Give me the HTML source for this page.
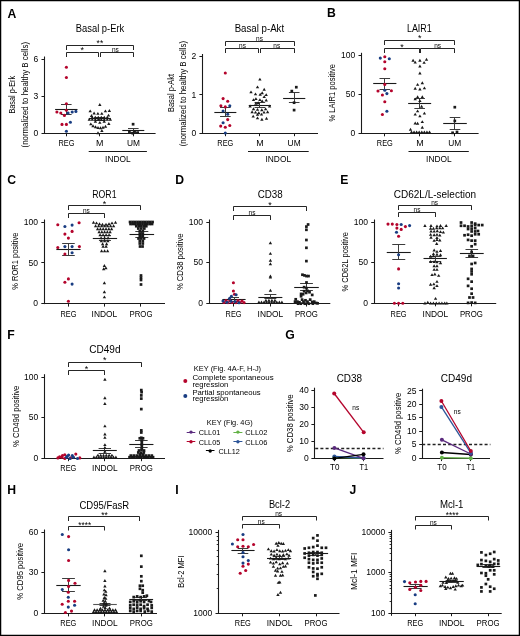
<!DOCTYPE html>
<html><head><meta charset="utf-8"><style>
html,body{margin:0;padding:0;background:#fff;}
svg{display:block;font-family:"Liberation Sans",sans-serif;}
</style></head><body>
<svg width="520" height="636" viewBox="0 0 520 636">
<rect x="0" y="0" width="520" height="636" fill="#fff"/>
<line x1="55.10" y1="109.50" x2="77.50" y2="109.50" stroke="#1a1a1a" stroke-width="1.1"/>
<line x1="61.00" y1="104.50" x2="71.60" y2="104.50" stroke="#3a3a3a" stroke-width="0.9900000000000001"/>
<line x1="61.00" y1="114.50" x2="71.60" y2="114.50" stroke="#3a3a3a" stroke-width="0.9900000000000001"/>
<line x1="66.50" y1="104.80" x2="66.50" y2="114.20" stroke="#3a3a3a" stroke-width="0.9900000000000001"/>
<line x1="88.80" y1="118.50" x2="110.80" y2="118.50" stroke="#1a1a1a" stroke-width="1.1"/>
<line x1="94.50" y1="117.50" x2="105.10" y2="117.50" stroke="#3a3a3a" stroke-width="0.9900000000000001"/>
<line x1="94.50" y1="120.50" x2="105.10" y2="120.50" stroke="#3a3a3a" stroke-width="0.9900000000000001"/>
<line x1="99.50" y1="117.70" x2="99.50" y2="120.20" stroke="#3a3a3a" stroke-width="0.9900000000000001"/>
<line x1="122.30" y1="130.50" x2="144.30" y2="130.50" stroke="#1a1a1a" stroke-width="1.1"/>
<line x1="128.00" y1="128.50" x2="138.60" y2="128.50" stroke="#3a3a3a" stroke-width="0.9900000000000001"/>
<line x1="128.00" y1="132.50" x2="138.60" y2="132.50" stroke="#3a3a3a" stroke-width="0.9900000000000001"/>
<line x1="133.50" y1="128.20" x2="133.50" y2="132.40" stroke="#3a3a3a" stroke-width="0.9900000000000001"/>
<line x1="214.35" y1="112.50" x2="236.35" y2="112.50" stroke="#1a1a1a" stroke-width="1.1"/>
<line x1="220.05" y1="107.50" x2="230.65" y2="107.50" stroke="#3a3a3a" stroke-width="0.9900000000000001"/>
<line x1="220.05" y1="116.50" x2="230.65" y2="116.50" stroke="#3a3a3a" stroke-width="0.9900000000000001"/>
<line x1="225.50" y1="107.50" x2="225.50" y2="116.30" stroke="#3a3a3a" stroke-width="0.9900000000000001"/>
<line x1="248.75" y1="105.50" x2="270.95" y2="105.50" stroke="#1a1a1a" stroke-width="1.1"/>
<line x1="254.55" y1="102.50" x2="265.15" y2="102.50" stroke="#3a3a3a" stroke-width="0.9900000000000001"/>
<line x1="254.55" y1="107.50" x2="265.15" y2="107.50" stroke="#3a3a3a" stroke-width="0.9900000000000001"/>
<line x1="259.50" y1="103.00" x2="259.50" y2="107.40" stroke="#3a3a3a" stroke-width="0.9900000000000001"/>
<line x1="283.10" y1="98.50" x2="305.30" y2="98.50" stroke="#1a1a1a" stroke-width="1.1"/>
<line x1="288.90" y1="92.50" x2="299.50" y2="92.50" stroke="#3a3a3a" stroke-width="0.9900000000000001"/>
<line x1="288.90" y1="102.50" x2="299.50" y2="102.50" stroke="#3a3a3a" stroke-width="0.9900000000000001"/>
<line x1="294.50" y1="92.20" x2="294.50" y2="103.00" stroke="#3a3a3a" stroke-width="0.9900000000000001"/>
<line x1="373.20" y1="83.50" x2="396.40" y2="83.50" stroke="#1a1a1a" stroke-width="1.1"/>
<line x1="379.50" y1="78.50" x2="390.10" y2="78.50" stroke="#3a3a3a" stroke-width="0.9900000000000001"/>
<line x1="379.50" y1="89.50" x2="390.10" y2="89.50" stroke="#3a3a3a" stroke-width="0.9900000000000001"/>
<line x1="384.50" y1="78.70" x2="384.50" y2="89.30" stroke="#3a3a3a" stroke-width="0.9900000000000001"/>
<line x1="408.15" y1="103.50" x2="431.15" y2="103.50" stroke="#1a1a1a" stroke-width="1.1"/>
<line x1="414.35" y1="98.50" x2="424.95" y2="98.50" stroke="#3a3a3a" stroke-width="0.9900000000000001"/>
<line x1="414.35" y1="108.50" x2="424.95" y2="108.50" stroke="#3a3a3a" stroke-width="0.9900000000000001"/>
<line x1="419.50" y1="98.80" x2="419.50" y2="108.00" stroke="#3a3a3a" stroke-width="0.9900000000000001"/>
<line x1="443.20" y1="123.50" x2="466.80" y2="123.50" stroke="#1a1a1a" stroke-width="1.1"/>
<line x1="449.70" y1="117.50" x2="460.30" y2="117.50" stroke="#3a3a3a" stroke-width="0.9900000000000001"/>
<line x1="449.70" y1="129.50" x2="460.30" y2="129.50" stroke="#3a3a3a" stroke-width="0.9900000000000001"/>
<line x1="454.50" y1="117.30" x2="454.50" y2="129.30" stroke="#3a3a3a" stroke-width="0.9900000000000001"/>
<line x1="56.35" y1="249.50" x2="80.55" y2="249.50" stroke="#1a1a1a" stroke-width="1.1"/>
<line x1="62.15" y1="243.50" x2="74.75" y2="243.50" stroke="#3a3a3a" stroke-width="0.9900000000000001"/>
<line x1="62.15" y1="255.50" x2="74.75" y2="255.50" stroke="#3a3a3a" stroke-width="0.9900000000000001"/>
<line x1="68.50" y1="243.70" x2="68.50" y2="255.30" stroke="#3a3a3a" stroke-width="0.9900000000000001"/>
<line x1="92.80" y1="238.50" x2="117.10" y2="238.50" stroke="#1a1a1a" stroke-width="1.1"/>
<line x1="98.95" y1="235.50" x2="110.95" y2="235.50" stroke="#3a3a3a" stroke-width="0.9900000000000001"/>
<line x1="98.95" y1="240.50" x2="110.95" y2="240.50" stroke="#3a3a3a" stroke-width="0.9900000000000001"/>
<line x1="104.50" y1="235.20" x2="104.50" y2="240.40" stroke="#3a3a3a" stroke-width="0.9900000000000001"/>
<line x1="129.50" y1="234.50" x2="154.10" y2="234.50" stroke="#1a1a1a" stroke-width="1.1"/>
<line x1="135.30" y1="231.50" x2="148.30" y2="231.50" stroke="#3a3a3a" stroke-width="0.9900000000000001"/>
<line x1="135.30" y1="237.50" x2="148.30" y2="237.50" stroke="#3a3a3a" stroke-width="0.9900000000000001"/>
<line x1="141.50" y1="231.40" x2="141.50" y2="237.40" stroke="#3a3a3a" stroke-width="0.9900000000000001"/>
<line x1="222.40" y1="299.50" x2="245.60" y2="299.50" stroke="#1a1a1a" stroke-width="1.1"/>
<line x1="229.00" y1="297.50" x2="239.00" y2="297.50" stroke="#3a3a3a" stroke-width="0.9900000000000001"/>
<line x1="229.00" y1="301.50" x2="239.00" y2="301.50" stroke="#3a3a3a" stroke-width="0.9900000000000001"/>
<line x1="234.50" y1="297.60" x2="234.50" y2="301.40" stroke="#3a3a3a" stroke-width="0.9900000000000001"/>
<line x1="258.35" y1="297.50" x2="282.35" y2="297.50" stroke="#1a1a1a" stroke-width="1.1"/>
<line x1="264.35" y1="294.50" x2="276.35" y2="294.50" stroke="#3a3a3a" stroke-width="0.9900000000000001"/>
<line x1="264.35" y1="298.50" x2="276.35" y2="298.50" stroke="#3a3a3a" stroke-width="0.9900000000000001"/>
<line x1="270.50" y1="295.00" x2="270.50" y2="299.00" stroke="#3a3a3a" stroke-width="0.9900000000000001"/>
<line x1="294.20" y1="287.50" x2="318.80" y2="287.50" stroke="#1a1a1a" stroke-width="1.1"/>
<line x1="300.10" y1="283.50" x2="312.90" y2="283.50" stroke="#3a3a3a" stroke-width="0.9900000000000001"/>
<line x1="300.10" y1="290.50" x2="312.90" y2="290.50" stroke="#3a3a3a" stroke-width="0.9900000000000001"/>
<line x1="306.50" y1="283.60" x2="306.50" y2="290.20" stroke="#3a3a3a" stroke-width="0.9900000000000001"/>
<line x1="386.75" y1="252.50" x2="410.75" y2="252.50" stroke="#1a1a1a" stroke-width="1.1"/>
<line x1="392.25" y1="244.50" x2="405.25" y2="244.50" stroke="#3a3a3a" stroke-width="0.9900000000000001"/>
<line x1="392.25" y1="259.50" x2="405.25" y2="259.50" stroke="#3a3a3a" stroke-width="0.9900000000000001"/>
<line x1="398.50" y1="244.00" x2="398.50" y2="259.80" stroke="#3a3a3a" stroke-width="0.9900000000000001"/>
<line x1="423.50" y1="258.50" x2="446.90" y2="258.50" stroke="#1a1a1a" stroke-width="1.1"/>
<line x1="429.20" y1="256.50" x2="441.20" y2="256.50" stroke="#3a3a3a" stroke-width="0.9900000000000001"/>
<line x1="429.20" y1="261.50" x2="441.20" y2="261.50" stroke="#3a3a3a" stroke-width="0.9900000000000001"/>
<line x1="435.50" y1="256.60" x2="435.50" y2="261.40" stroke="#3a3a3a" stroke-width="0.9900000000000001"/>
<line x1="459.90" y1="253.50" x2="483.70" y2="253.50" stroke="#1a1a1a" stroke-width="1.1"/>
<line x1="465.50" y1="249.50" x2="478.10" y2="249.50" stroke="#3a3a3a" stroke-width="0.9900000000000001"/>
<line x1="465.50" y1="257.50" x2="478.10" y2="257.50" stroke="#3a3a3a" stroke-width="0.9900000000000001"/>
<line x1="471.50" y1="249.10" x2="471.50" y2="257.90" stroke="#3a3a3a" stroke-width="0.9900000000000001"/>
<line x1="92.80" y1="450.50" x2="116.80" y2="450.50" stroke="#1a1a1a" stroke-width="1.1"/>
<line x1="98.60" y1="448.50" x2="111.00" y2="448.50" stroke="#3a3a3a" stroke-width="0.9900000000000001"/>
<line x1="98.60" y1="453.50" x2="111.00" y2="453.50" stroke="#3a3a3a" stroke-width="0.9900000000000001"/>
<line x1="104.50" y1="448.40" x2="104.50" y2="453.70" stroke="#3a3a3a" stroke-width="0.9900000000000001"/>
<line x1="129.25" y1="444.50" x2="153.45" y2="444.50" stroke="#1a1a1a" stroke-width="1.1"/>
<line x1="135.05" y1="440.50" x2="147.65" y2="440.50" stroke="#3a3a3a" stroke-width="0.9900000000000001"/>
<line x1="135.05" y1="447.50" x2="147.65" y2="447.50" stroke="#3a3a3a" stroke-width="0.9900000000000001"/>
<line x1="141.50" y1="440.50" x2="141.50" y2="447.40" stroke="#3a3a3a" stroke-width="0.9900000000000001"/>
<line x1="56.30" y1="585.50" x2="80.70" y2="585.50" stroke="#1a1a1a" stroke-width="1.1"/>
<line x1="62.10" y1="578.50" x2="74.90" y2="578.50" stroke="#3a3a3a" stroke-width="0.9900000000000001"/>
<line x1="62.10" y1="591.50" x2="74.90" y2="591.50" stroke="#3a3a3a" stroke-width="0.9900000000000001"/>
<line x1="68.50" y1="578.90" x2="68.50" y2="591.50" stroke="#3a3a3a" stroke-width="0.9900000000000001"/>
<line x1="93.20" y1="604.50" x2="116.80" y2="604.50" stroke="#555" stroke-width="1.1"/>
<line x1="99.50" y1="603.50" x2="110.50" y2="603.50" stroke="#3a3a3a" stroke-width="0.9900000000000001"/>
<line x1="99.50" y1="605.50" x2="110.50" y2="605.50" stroke="#3a3a3a" stroke-width="0.9900000000000001"/>
<line x1="104.50" y1="603.90" x2="104.50" y2="605.60" stroke="#3a3a3a" stroke-width="0.9900000000000001"/>
<line x1="129.30" y1="599.50" x2="153.10" y2="599.50" stroke="#1a1a1a" stroke-width="1.1"/>
<line x1="135.20" y1="597.50" x2="147.20" y2="597.50" stroke="#3a3a3a" stroke-width="0.9900000000000001"/>
<line x1="135.20" y1="600.50" x2="147.20" y2="600.50" stroke="#3a3a3a" stroke-width="0.9900000000000001"/>
<line x1="141.50" y1="597.80" x2="141.50" y2="600.80" stroke="#3a3a3a" stroke-width="0.9900000000000001"/>
<line x1="231.40" y1="550.50" x2="254.60" y2="550.50" stroke="#1a1a1a" stroke-width="1.1"/>
<line x1="237.70" y1="548.50" x2="248.30" y2="548.50" stroke="#3a3a3a" stroke-width="0.9900000000000001"/>
<line x1="237.70" y1="553.50" x2="248.30" y2="553.50" stroke="#3a3a3a" stroke-width="0.9900000000000001"/>
<line x1="242.50" y1="548.90" x2="242.50" y2="553.60" stroke="#3a3a3a" stroke-width="0.9900000000000001"/>
<line x1="267.00" y1="558.50" x2="291.20" y2="558.50" stroke="#1a1a1a" stroke-width="1.1"/>
<line x1="273.10" y1="556.50" x2="285.10" y2="556.50" stroke="#3a3a3a" stroke-width="0.9900000000000001"/>
<line x1="273.10" y1="559.50" x2="285.10" y2="559.50" stroke="#3a3a3a" stroke-width="0.9900000000000001"/>
<line x1="279.50" y1="557.00" x2="279.50" y2="559.80" stroke="#3a3a3a" stroke-width="0.9900000000000001"/>
<line x1="303.70" y1="553.50" x2="328.10" y2="553.50" stroke="#1a1a1a" stroke-width="1.1"/>
<line x1="309.90" y1="552.50" x2="321.90" y2="552.50" stroke="#3a3a3a" stroke-width="0.9900000000000001"/>
<line x1="309.90" y1="555.50" x2="321.90" y2="555.50" stroke="#3a3a3a" stroke-width="0.9900000000000001"/>
<line x1="315.50" y1="552.00" x2="315.50" y2="555.30" stroke="#3a3a3a" stroke-width="0.9900000000000001"/>
<line x1="403.50" y1="586.50" x2="427.70" y2="586.50" stroke="#1a1a1a" stroke-width="1.1"/>
<line x1="409.60" y1="584.50" x2="421.60" y2="584.50" stroke="#3a3a3a" stroke-width="0.9900000000000001"/>
<line x1="409.60" y1="588.50" x2="421.60" y2="588.50" stroke="#3a3a3a" stroke-width="0.9900000000000001"/>
<line x1="415.50" y1="584.30" x2="415.50" y2="588.30" stroke="#3a3a3a" stroke-width="0.9900000000000001"/>
<line x1="439.40" y1="581.50" x2="463.80" y2="581.50" stroke="#1a1a1a" stroke-width="1.1"/>
<line x1="445.60" y1="580.50" x2="457.60" y2="580.50" stroke="#3a3a3a" stroke-width="0.9900000000000001"/>
<line x1="445.60" y1="582.50" x2="457.60" y2="582.50" stroke="#3a3a3a" stroke-width="0.9900000000000001"/>
<line x1="451.50" y1="580.40" x2="451.50" y2="582.90" stroke="#3a3a3a" stroke-width="0.9900000000000001"/>
<line x1="476.60" y1="566.50" x2="500.20" y2="566.50" stroke="#1a1a1a" stroke-width="1.1"/>
<line x1="482.40" y1="564.50" x2="494.40" y2="564.50" stroke="#3a3a3a" stroke-width="0.9900000000000001"/>
<line x1="482.40" y1="567.50" x2="494.40" y2="567.50" stroke="#3a3a3a" stroke-width="0.9900000000000001"/>
<line x1="488.50" y1="565.00" x2="488.50" y2="567.80" stroke="#3a3a3a" stroke-width="0.9900000000000001"/>
<polyline points="66.50,50.00 66.50,45.50 133.50,45.50 133.50,50.00" fill="none" stroke="#1a1a1a" stroke-width="0.95"/>
<polyline points="66.50,57.00 66.50,52.50 98.50,52.50 98.50,57.00" fill="none" stroke="#1a1a1a" stroke-width="0.95"/>
<polyline points="100.50,57.00 100.50,52.50 133.50,52.50 133.50,57.00" fill="none" stroke="#1a1a1a" stroke-width="0.95"/>
<line x1="44.50" y1="56.50" x2="44.50" y2="133.80" stroke="#1a1a1a" stroke-width="1.1"/>
<line x1="41.50" y1="59.50" x2="44.50" y2="59.50" stroke="#1a1a1a" stroke-width="1.0"/>
<line x1="41.50" y1="96.50" x2="44.50" y2="96.50" stroke="#1a1a1a" stroke-width="1.0"/>
<line x1="41.50" y1="133.50" x2="44.50" y2="133.50" stroke="#1a1a1a" stroke-width="1.0"/>
<line x1="44.00" y1="133.50" x2="155.60" y2="133.50" stroke="#1a1a1a" stroke-width="1.1"/>
<line x1="66.50" y1="133.30" x2="66.50" y2="136.30" stroke="#1a1a1a" stroke-width="1.0"/>
<line x1="99.50" y1="133.30" x2="99.50" y2="136.30" stroke="#1a1a1a" stroke-width="1.0"/>
<line x1="133.50" y1="133.30" x2="133.50" y2="136.30" stroke="#1a1a1a" stroke-width="1.0"/>
<line x1="88.70" y1="151.50" x2="146.90" y2="151.50" stroke="#1a1a1a" stroke-width="1.1"/>
<circle cx="66.40" cy="67.30" r="1.55" fill="#b4042c"/>
<circle cx="66.40" cy="77.50" r="1.55" fill="#b4042c"/>
<circle cx="66.40" cy="103.80" r="1.55" fill="#b4042c"/>
<circle cx="66.40" cy="110.30" r="1.55" fill="#b4042c"/>
<circle cx="56.90" cy="112.00" r="1.55" fill="#b4042c"/>
<circle cx="60.80" cy="113.00" r="1.55" fill="#b4042c"/>
<circle cx="64.40" cy="115.40" r="1.55" fill="#b4042c"/>
<circle cx="62.00" cy="124.40" r="1.55" fill="#b4042c"/>
<circle cx="66.40" cy="124.40" r="1.55" fill="#b4042c"/>
<circle cx="68.10" cy="113.00" r="1.55" fill="#193d82"/>
<circle cx="72.20" cy="112.00" r="1.55" fill="#193d82"/>
<circle cx="75.90" cy="111.40" r="1.55" fill="#193d82"/>
<circle cx="70.40" cy="122.20" r="1.55" fill="#193d82"/>
<circle cx="66.40" cy="131.30" r="1.55" fill="#193d82"/>
<path d="M99.80 103.07L101.50 105.96L98.10 105.96Z" fill="#1a1a1a"/>
<path d="M90.20 109.47L91.90 112.36L88.50 112.36Z" fill="#1a1a1a"/>
<path d="M105.40 109.47L107.10 112.36L103.70 112.36Z" fill="#1a1a1a"/>
<path d="M109.40 109.07L111.10 111.96L107.70 111.96Z" fill="#1a1a1a"/>
<path d="M94.10 111.57L95.80 114.46L92.40 114.46Z" fill="#1a1a1a"/>
<path d="M97.90 111.97L99.60 114.86L96.20 114.86Z" fill="#1a1a1a"/>
<path d="M101.80 111.97L103.50 114.86L100.10 114.86Z" fill="#1a1a1a"/>
<path d="M91.50 114.07L93.20 116.96L89.80 116.96Z" fill="#1a1a1a"/>
<path d="M108.50 113.67L110.20 116.56L106.80 116.56Z" fill="#1a1a1a"/>
<path d="M95.40 119.77L97.10 122.66L93.70 122.66Z" fill="#1a1a1a"/>
<path d="M99.80 120.97L101.50 123.86L98.10 123.86Z" fill="#1a1a1a"/>
<path d="M104.20 119.77L105.90 122.66L102.50 122.66Z" fill="#1a1a1a"/>
<path d="M90.80 122.47L92.50 125.36L89.10 125.36Z" fill="#1a1a1a"/>
<path d="M108.80 122.07L110.50 124.96L107.10 124.96Z" fill="#1a1a1a"/>
<path d="M93.00 124.27L94.70 127.16L91.30 127.16Z" fill="#1a1a1a"/>
<path d="M95.50 125.27L97.20 128.16L93.80 128.16Z" fill="#1a1a1a"/>
<path d="M98.00 126.07L99.70 128.96L96.30 128.96Z" fill="#1a1a1a"/>
<path d="M100.50 126.27L102.20 129.16L98.80 129.16Z" fill="#1a1a1a"/>
<path d="M103.00 125.77L104.70 128.66L101.30 128.66Z" fill="#1a1a1a"/>
<path d="M105.50 124.77L107.20 127.66L103.80 127.66Z" fill="#1a1a1a"/>
<path d="M101.90 129.07L103.60 131.96L100.20 131.96Z" fill="#1a1a1a"/>
<path d="M98.00 131.27L99.70 134.16L96.30 134.16Z" fill="#1a1a1a"/>
<path d="M92.30 115.67L94.00 118.56L90.60 118.56Z" fill="#1a1a1a"/>
<path d="M95.30 115.67L97.00 118.56L93.60 118.56Z" fill="#1a1a1a"/>
<path d="M98.30 115.67L100.00 118.56L96.60 118.56Z" fill="#1a1a1a"/>
<path d="M101.30 115.67L103.00 118.56L99.60 118.56Z" fill="#1a1a1a"/>
<path d="M104.30 115.67L106.00 118.56L102.60 118.56Z" fill="#1a1a1a"/>
<path d="M107.30 115.67L109.00 118.56L105.60 118.56Z" fill="#1a1a1a"/>
<path d="M89.30 117.87L91.00 120.76L87.60 120.76Z" fill="#1a1a1a"/>
<path d="M92.30 117.87L94.00 120.76L90.60 120.76Z" fill="#1a1a1a"/>
<path d="M95.30 117.87L97.00 120.76L93.60 120.76Z" fill="#1a1a1a"/>
<path d="M98.30 117.87L100.00 120.76L96.60 120.76Z" fill="#1a1a1a"/>
<path d="M101.30 117.87L103.00 120.76L99.60 120.76Z" fill="#1a1a1a"/>
<path d="M104.30 117.87L106.00 120.76L102.60 120.76Z" fill="#1a1a1a"/>
<path d="M107.30 117.87L109.00 120.76L105.60 120.76Z" fill="#1a1a1a"/>
<path d="M110.30 117.87L112.00 120.76L108.60 120.76Z" fill="#1a1a1a"/>
<rect x="131.75" y="122.85" width="2.7" height="2.7" fill="#1a1a1a"/>
<rect x="128.05" y="129.95" width="2.7" height="2.7" fill="#1a1a1a"/>
<rect x="133.25" y="129.95" width="2.7" height="2.7" fill="#1a1a1a"/>
<rect x="136.35" y="131.25" width="2.7" height="2.7" fill="#1a1a1a"/>
<rect x="131.45" y="131.85" width="2.7" height="2.7" fill="#1a1a1a"/>
<polyline points="225.50,46.00 225.50,41.50 294.50,41.50 294.50,46.00" fill="none" stroke="#1a1a1a" stroke-width="0.95"/>
<polyline points="225.50,53.00 225.50,48.50 258.50,48.50 258.50,53.00" fill="none" stroke="#1a1a1a" stroke-width="0.95"/>
<polyline points="260.50,53.00 260.50,48.50 294.50,48.50 294.50,53.00" fill="none" stroke="#1a1a1a" stroke-width="0.95"/>
<line x1="202.50" y1="54.00" x2="202.50" y2="133.70" stroke="#1a1a1a" stroke-width="1.1"/>
<line x1="199.40" y1="56.50" x2="202.40" y2="56.50" stroke="#1a1a1a" stroke-width="1.0"/>
<line x1="199.40" y1="94.50" x2="202.40" y2="94.50" stroke="#1a1a1a" stroke-width="1.0"/>
<line x1="199.40" y1="133.50" x2="202.40" y2="133.50" stroke="#1a1a1a" stroke-width="1.0"/>
<line x1="201.90" y1="133.50" x2="318.00" y2="133.50" stroke="#1a1a1a" stroke-width="1.1"/>
<line x1="225.50" y1="133.20" x2="225.50" y2="136.20" stroke="#1a1a1a" stroke-width="1.0"/>
<line x1="259.50" y1="133.20" x2="259.50" y2="136.20" stroke="#1a1a1a" stroke-width="1.0"/>
<line x1="294.50" y1="133.20" x2="294.50" y2="136.20" stroke="#1a1a1a" stroke-width="1.0"/>
<line x1="248.00" y1="151.50" x2="308.70" y2="151.50" stroke="#1a1a1a" stroke-width="1.1"/>
<circle cx="225.30" cy="73.00" r="1.55" fill="#b4042c"/>
<circle cx="223.10" cy="98.60" r="1.55" fill="#b4042c"/>
<circle cx="227.70" cy="101.30" r="1.55" fill="#b4042c"/>
<circle cx="220.90" cy="105.70" r="1.55" fill="#b4042c"/>
<circle cx="225.30" cy="106.90" r="1.55" fill="#b4042c"/>
<circle cx="227.70" cy="119.60" r="1.55" fill="#b4042c"/>
<circle cx="220.70" cy="126.10" r="1.55" fill="#b4042c"/>
<circle cx="225.30" cy="127.30" r="1.55" fill="#b4042c"/>
<circle cx="229.80" cy="125.50" r="1.55" fill="#b4042c"/>
<circle cx="229.80" cy="105.70" r="1.55" fill="#193d82"/>
<circle cx="223.10" cy="111.00" r="1.55" fill="#193d82"/>
<circle cx="227.70" cy="114.30" r="1.55" fill="#193d82"/>
<circle cx="223.10" cy="122.80" r="1.55" fill="#193d82"/>
<circle cx="225.30" cy="133.00" r="1.55" fill="#193d82"/>
<path d="M259.90 77.67L261.60 80.56L258.20 80.56Z" fill="#1a1a1a"/>
<path d="M257.50 85.47L259.20 88.36L255.80 88.36Z" fill="#1a1a1a"/>
<path d="M264.20 87.77L265.90 90.66L262.50 90.66Z" fill="#1a1a1a"/>
<path d="M251.00 90.47L252.70 93.36L249.30 93.36Z" fill="#1a1a1a"/>
<path d="M255.50 92.47L257.20 95.36L253.80 95.36Z" fill="#1a1a1a"/>
<path d="M260.20 92.87L261.90 95.76L258.50 95.76Z" fill="#1a1a1a"/>
<path d="M262.20 91.37L263.90 94.26L260.50 94.26Z" fill="#1a1a1a"/>
<path d="M266.20 93.17L267.90 96.06L264.50 96.06Z" fill="#1a1a1a"/>
<path d="M264.20 95.17L265.90 98.06L262.50 98.06Z" fill="#1a1a1a"/>
<path d="M253.50 98.17L255.20 101.06L251.80 101.06Z" fill="#1a1a1a"/>
<path d="M255.90 97.17L257.60 100.06L254.20 100.06Z" fill="#1a1a1a"/>
<path d="M259.90 98.17L261.60 101.06L258.20 101.06Z" fill="#1a1a1a"/>
<path d="M262.20 99.47L263.90 102.36L260.50 102.36Z" fill="#1a1a1a"/>
<path d="M266.20 98.57L267.90 101.46L264.50 101.46Z" fill="#1a1a1a"/>
<path d="M258.20 101.27L259.90 104.16L256.50 104.16Z" fill="#1a1a1a"/>
<path d="M255.90 101.87L257.60 104.76L254.20 104.76Z" fill="#1a1a1a"/>
<path d="M250.10 104.57L251.80 107.46L248.40 107.46Z" fill="#1a1a1a"/>
<path d="M269.60 104.57L271.30 107.46L267.90 107.46Z" fill="#1a1a1a"/>
<path d="M253.50 107.27L255.20 110.16L251.80 110.16Z" fill="#1a1a1a"/>
<path d="M257.50 107.97L259.20 110.86L255.80 110.86Z" fill="#1a1a1a"/>
<path d="M261.80 108.37L263.50 111.26L260.10 111.26Z" fill="#1a1a1a"/>
<path d="M265.60 107.27L267.30 110.16L263.90 110.16Z" fill="#1a1a1a"/>
<path d="M252.10 110.27L253.80 113.16L250.40 113.16Z" fill="#1a1a1a"/>
<path d="M255.50 110.67L257.20 113.56L253.80 113.56Z" fill="#1a1a1a"/>
<path d="M258.80 111.37L260.50 114.26L257.10 114.26Z" fill="#1a1a1a"/>
<path d="M264.00 110.67L265.70 113.56L262.30 113.56Z" fill="#1a1a1a"/>
<path d="M267.60 110.27L269.30 113.16L265.90 113.16Z" fill="#1a1a1a"/>
<path d="M257.50 112.97L259.20 115.86L255.80 115.86Z" fill="#1a1a1a"/>
<path d="M261.50 112.67L263.20 115.56L259.80 115.56Z" fill="#1a1a1a"/>
<path d="M253.20 114.67L254.90 117.56L251.50 117.56Z" fill="#1a1a1a"/>
<path d="M257.50 116.47L259.20 119.36L255.80 119.36Z" fill="#1a1a1a"/>
<path d="M261.90 117.77L263.60 120.66L260.20 120.66Z" fill="#1a1a1a"/>
<path d="M266.50 116.77L268.20 119.66L264.80 119.66Z" fill="#1a1a1a"/>
<rect x="294.95" y="85.85" width="2.7" height="2.7" fill="#1a1a1a"/>
<rect x="290.45" y="89.75" width="2.7" height="2.7" fill="#1a1a1a"/>
<rect x="292.75" y="101.35" width="2.7" height="2.7" fill="#1a1a1a"/>
<rect x="292.75" y="108.75" width="2.7" height="2.7" fill="#1a1a1a"/>
<polyline points="384.50,45.00 384.50,40.50 454.50,40.50 454.50,45.00" fill="none" stroke="#1a1a1a" stroke-width="0.95"/>
<polyline points="384.50,53.00 384.50,48.50 419.50,48.50 419.50,53.00" fill="none" stroke="#1a1a1a" stroke-width="0.95"/>
<polyline points="420.50,53.00 420.50,48.50 454.50,48.50 454.50,53.00" fill="none" stroke="#1a1a1a" stroke-width="0.95"/>
<line x1="361.50" y1="52.80" x2="361.50" y2="133.80" stroke="#1a1a1a" stroke-width="1.1"/>
<line x1="358.50" y1="55.50" x2="361.50" y2="55.50" stroke="#1a1a1a" stroke-width="1.0"/>
<line x1="358.50" y1="94.50" x2="361.50" y2="94.50" stroke="#1a1a1a" stroke-width="1.0"/>
<line x1="358.50" y1="133.50" x2="361.50" y2="133.50" stroke="#1a1a1a" stroke-width="1.0"/>
<line x1="361.00" y1="133.50" x2="478.60" y2="133.50" stroke="#1a1a1a" stroke-width="1.1"/>
<line x1="384.50" y1="133.30" x2="384.50" y2="136.30" stroke="#1a1a1a" stroke-width="1.0"/>
<line x1="419.50" y1="133.30" x2="419.50" y2="136.30" stroke="#1a1a1a" stroke-width="1.0"/>
<line x1="454.50" y1="133.30" x2="454.50" y2="136.30" stroke="#1a1a1a" stroke-width="1.0"/>
<line x1="408.50" y1="151.50" x2="468.80" y2="151.50" stroke="#1a1a1a" stroke-width="1.1"/>
<circle cx="384.80" cy="56.80" r="1.55" fill="#b4042c"/>
<circle cx="384.80" cy="61.70" r="1.55" fill="#b4042c"/>
<circle cx="384.80" cy="68.80" r="1.55" fill="#b4042c"/>
<circle cx="384.80" cy="84.40" r="1.55" fill="#b4042c"/>
<circle cx="378.00" cy="91.00" r="1.55" fill="#b4042c"/>
<circle cx="391.40" cy="90.70" r="1.55" fill="#b4042c"/>
<circle cx="382.40" cy="95.00" r="1.55" fill="#b4042c"/>
<circle cx="384.80" cy="101.80" r="1.55" fill="#b4042c"/>
<circle cx="382.40" cy="114.50" r="1.55" fill="#b4042c"/>
<circle cx="380.30" cy="58.10" r="1.55" fill="#193d82"/>
<circle cx="389.30" cy="58.80" r="1.55" fill="#193d82"/>
<circle cx="384.80" cy="90.30" r="1.55" fill="#193d82"/>
<circle cx="386.90" cy="93.60" r="1.55" fill="#193d82"/>
<circle cx="386.90" cy="111.20" r="1.55" fill="#193d82"/>
<path d="M413.10 58.87L414.80 61.76L411.40 61.76Z" fill="#1a1a1a"/>
<path d="M415.20 60.67L416.90 63.56L413.50 63.56Z" fill="#1a1a1a"/>
<path d="M419.90 58.87L421.60 61.76L418.20 61.76Z" fill="#1a1a1a"/>
<path d="M424.10 60.97L425.80 63.86L422.40 63.86Z" fill="#1a1a1a"/>
<path d="M426.50 57.77L428.20 60.66L424.80 60.66Z" fill="#1a1a1a"/>
<path d="M419.90 64.57L421.60 67.46L418.20 67.46Z" fill="#1a1a1a"/>
<path d="M419.90 71.57L421.60 74.46L418.20 74.46Z" fill="#1a1a1a"/>
<path d="M417.60 82.97L419.30 85.86L415.90 85.86Z" fill="#1a1a1a"/>
<path d="M422.30 81.27L424.00 84.16L420.60 84.16Z" fill="#1a1a1a"/>
<path d="M415.20 86.77L416.90 89.66L413.50 89.66Z" fill="#1a1a1a"/>
<path d="M419.90 87.57L421.60 90.46L418.20 90.46Z" fill="#1a1a1a"/>
<path d="M424.40 86.47L426.10 89.36L422.70 89.36Z" fill="#1a1a1a"/>
<path d="M417.60 95.37L419.30 98.26L415.90 98.26Z" fill="#1a1a1a"/>
<path d="M422.30 95.37L424.00 98.26L420.60 98.26Z" fill="#1a1a1a"/>
<path d="M415.20 97.47L416.90 100.36L413.50 100.36Z" fill="#1a1a1a"/>
<path d="M419.90 99.17L421.60 102.06L418.20 102.06Z" fill="#1a1a1a"/>
<path d="M421.60 104.87L423.30 107.76L419.90 107.76Z" fill="#1a1a1a"/>
<path d="M417.60 109.47L419.30 112.36L415.90 112.36Z" fill="#1a1a1a"/>
<path d="M415.20 112.67L416.90 115.56L413.50 115.56Z" fill="#1a1a1a"/>
<path d="M424.40 111.67L426.10 114.56L422.70 114.56Z" fill="#1a1a1a"/>
<path d="M419.90 114.47L421.60 117.36L418.20 117.36Z" fill="#1a1a1a"/>
<path d="M415.20 121.57L416.90 124.46L413.50 124.46Z" fill="#1a1a1a"/>
<path d="M417.60 121.87L419.30 124.76L415.90 124.76Z" fill="#1a1a1a"/>
<path d="M422.30 120.17L424.00 123.06L420.60 123.06Z" fill="#1a1a1a"/>
<path d="M410.50 127.87L412.20 130.76L408.80 130.76Z" fill="#1a1a1a"/>
<path d="M422.30 125.77L424.00 128.66L420.60 128.66Z" fill="#1a1a1a"/>
<path d="M411.50 130.47L413.20 133.36L409.80 133.36Z" fill="#1a1a1a"/>
<path d="M414.07 130.47L415.77 133.36L412.37 133.36Z" fill="#1a1a1a"/>
<path d="M416.64 130.47L418.34 133.36L414.94 133.36Z" fill="#1a1a1a"/>
<path d="M419.21 130.47L420.91 133.36L417.51 133.36Z" fill="#1a1a1a"/>
<path d="M421.79 130.47L423.49 133.36L420.09 133.36Z" fill="#1a1a1a"/>
<path d="M424.36 130.47L426.06 133.36L422.66 133.36Z" fill="#1a1a1a"/>
<path d="M426.93 130.47L428.63 133.36L425.23 133.36Z" fill="#1a1a1a"/>
<path d="M429.50 130.47L431.20 133.36L427.80 133.36Z" fill="#1a1a1a"/>
<rect x="453.45" y="105.85" width="2.7" height="2.7" fill="#1a1a1a"/>
<rect x="453.45" y="119.55" width="2.7" height="2.7" fill="#1a1a1a"/>
<rect x="451.25" y="131.45" width="2.7" height="2.7" fill="#1a1a1a"/>
<rect x="455.65" y="130.65" width="2.7" height="2.7" fill="#1a1a1a"/>
<polyline points="68.50,210.00 68.50,205.50 140.50,205.50 140.50,210.00" fill="none" stroke="#1a1a1a" stroke-width="0.95"/>
<polyline points="68.50,218.00 68.50,213.50 104.50,213.50 104.50,218.00" fill="none" stroke="#1a1a1a" stroke-width="0.95"/>
<line x1="44.50" y1="219.50" x2="44.50" y2="304.10" stroke="#1a1a1a" stroke-width="1.1"/>
<line x1="41.30" y1="222.50" x2="44.30" y2="222.50" stroke="#1a1a1a" stroke-width="1.0"/>
<line x1="41.30" y1="262.50" x2="44.30" y2="262.50" stroke="#1a1a1a" stroke-width="1.0"/>
<line x1="41.30" y1="303.50" x2="44.30" y2="303.50" stroke="#1a1a1a" stroke-width="1.0"/>
<line x1="43.80" y1="303.50" x2="165.00" y2="303.50" stroke="#1a1a1a" stroke-width="1.1"/>
<line x1="68.50" y1="303.60" x2="68.50" y2="306.60" stroke="#1a1a1a" stroke-width="1.0"/>
<line x1="104.50" y1="303.60" x2="104.50" y2="306.60" stroke="#1a1a1a" stroke-width="1.0"/>
<line x1="140.50" y1="303.60" x2="140.50" y2="306.60" stroke="#1a1a1a" stroke-width="1.0"/>
<circle cx="57.80" cy="224.70" r="1.55" fill="#b4042c"/>
<circle cx="79.10" cy="222.80" r="1.55" fill="#b4042c"/>
<circle cx="64.90" cy="234.10" r="1.55" fill="#b4042c"/>
<circle cx="72.10" cy="231.40" r="1.55" fill="#b4042c"/>
<circle cx="68.40" cy="238.10" r="1.55" fill="#b4042c"/>
<circle cx="57.80" cy="247.50" r="1.55" fill="#b4042c"/>
<circle cx="79.40" cy="246.60" r="1.55" fill="#b4042c"/>
<circle cx="64.90" cy="254.10" r="1.55" fill="#b4042c"/>
<circle cx="68.40" cy="278.90" r="1.55" fill="#b4042c"/>
<circle cx="64.90" cy="282.20" r="1.55" fill="#b4042c"/>
<circle cx="68.40" cy="301.30" r="1.55" fill="#b4042c"/>
<circle cx="64.90" cy="226.50" r="1.55" fill="#193d82"/>
<circle cx="72.10" cy="225.10" r="1.55" fill="#193d82"/>
<circle cx="64.90" cy="246.60" r="1.55" fill="#193d82"/>
<circle cx="72.10" cy="246.60" r="1.55" fill="#193d82"/>
<circle cx="72.10" cy="252.80" r="1.55" fill="#193d82"/>
<circle cx="72.10" cy="284.10" r="1.55" fill="#193d82"/>
<path d="M93.50 220.77L95.20 223.66L91.80 223.66Z" fill="#1a1a1a"/>
<path d="M96.50 221.47L98.20 224.36L94.80 224.36Z" fill="#1a1a1a"/>
<path d="M99.50 222.27L101.20 225.16L97.80 225.16Z" fill="#1a1a1a"/>
<path d="M102.50 222.77L104.20 225.66L100.80 225.66Z" fill="#1a1a1a"/>
<path d="M106.00 222.77L107.70 225.66L104.30 225.66Z" fill="#1a1a1a"/>
<path d="M109.00 222.27L110.70 225.16L107.30 225.16Z" fill="#1a1a1a"/>
<path d="M112.00 221.47L113.70 224.36L110.30 224.36Z" fill="#1a1a1a"/>
<path d="M115.50 220.77L117.20 223.66L113.80 223.66Z" fill="#1a1a1a"/>
<path d="M95.60 224.27L97.30 227.16L93.90 227.16Z" fill="#1a1a1a"/>
<path d="M98.60 224.27L100.30 227.16L96.90 227.16Z" fill="#1a1a1a"/>
<path d="M101.60 224.27L103.30 227.16L99.90 227.16Z" fill="#1a1a1a"/>
<path d="M104.60 224.27L106.30 227.16L102.90 227.16Z" fill="#1a1a1a"/>
<path d="M107.60 224.27L109.30 227.16L105.90 227.16Z" fill="#1a1a1a"/>
<path d="M110.60 224.27L112.30 227.16L108.90 227.16Z" fill="#1a1a1a"/>
<path d="M113.60 224.27L115.30 227.16L111.90 227.16Z" fill="#1a1a1a"/>
<path d="M97.60 227.27L99.30 230.16L95.90 230.16Z" fill="#1a1a1a"/>
<path d="M100.40 227.27L102.10 230.16L98.70 230.16Z" fill="#1a1a1a"/>
<path d="M103.20 227.27L104.90 230.16L101.50 230.16Z" fill="#1a1a1a"/>
<path d="M106.00 227.27L107.70 230.16L104.30 230.16Z" fill="#1a1a1a"/>
<path d="M108.80 227.27L110.50 230.16L107.10 230.16Z" fill="#1a1a1a"/>
<path d="M111.60 227.27L113.30 230.16L109.90 230.16Z" fill="#1a1a1a"/>
<path d="M99.10 230.27L100.80 233.16L97.40 233.16Z" fill="#1a1a1a"/>
<path d="M101.85 230.27L103.55 233.16L100.15 233.16Z" fill="#1a1a1a"/>
<path d="M104.60 230.27L106.30 233.16L102.90 233.16Z" fill="#1a1a1a"/>
<path d="M107.35 230.27L109.05 233.16L105.65 233.16Z" fill="#1a1a1a"/>
<path d="M110.10 230.27L111.80 233.16L108.40 233.16Z" fill="#1a1a1a"/>
<path d="M100.10 233.27L101.80 236.16L98.40 236.16Z" fill="#1a1a1a"/>
<path d="M103.10 233.27L104.80 236.16L101.40 236.16Z" fill="#1a1a1a"/>
<path d="M106.10 233.27L107.80 236.16L104.40 236.16Z" fill="#1a1a1a"/>
<path d="M109.10 233.27L110.80 236.16L107.40 236.16Z" fill="#1a1a1a"/>
<path d="M101.10 236.27L102.80 239.16L99.40 239.16Z" fill="#1a1a1a"/>
<path d="M104.60 236.27L106.30 239.16L102.90 239.16Z" fill="#1a1a1a"/>
<path d="M108.10 236.27L109.80 239.16L106.40 239.16Z" fill="#1a1a1a"/>
<path d="M101.35 239.27L103.05 242.16L99.65 242.16Z" fill="#1a1a1a"/>
<path d="M104.60 239.27L106.30 242.16L102.90 242.16Z" fill="#1a1a1a"/>
<path d="M107.85 239.27L109.55 242.16L106.15 242.16Z" fill="#1a1a1a"/>
<path d="M102.60 242.27L104.30 245.16L100.90 245.16Z" fill="#1a1a1a"/>
<path d="M106.60 242.27L108.30 245.16L104.90 245.16Z" fill="#1a1a1a"/>
<path d="M103.10 244.77L104.80 247.66L101.40 247.66Z" fill="#1a1a1a"/>
<path d="M106.10 244.77L107.80 247.66L104.40 247.66Z" fill="#1a1a1a"/>
<path d="M101.60 249.27L103.30 252.16L99.90 252.16Z" fill="#1a1a1a"/>
<path d="M104.60 249.27L106.30 252.16L102.90 252.16Z" fill="#1a1a1a"/>
<path d="M107.60 249.27L109.30 252.16L105.90 252.16Z" fill="#1a1a1a"/>
<path d="M104.40 264.07L106.10 266.96L102.70 266.96Z" fill="#1a1a1a"/>
<path d="M105.90 266.27L107.60 269.16L104.20 269.16Z" fill="#1a1a1a"/>
<path d="M103.70 267.37L105.40 270.26L102.00 270.26Z" fill="#1a1a1a"/>
<path d="M104.40 281.27L106.10 284.16L102.70 284.16Z" fill="#1a1a1a"/>
<path d="M104.40 290.27L106.10 293.16L102.70 293.16Z" fill="#1a1a1a"/>
<path d="M104.40 295.47L106.10 298.36L102.70 298.36Z" fill="#1a1a1a"/>
<rect x="128.70" y="220.65" width="2.7" height="2.7" fill="#1a1a1a"/>
<rect x="131.20" y="220.65" width="2.7" height="2.7" fill="#1a1a1a"/>
<rect x="133.70" y="220.65" width="2.7" height="2.7" fill="#1a1a1a"/>
<rect x="136.20" y="220.65" width="2.7" height="2.7" fill="#1a1a1a"/>
<rect x="138.70" y="220.65" width="2.7" height="2.7" fill="#1a1a1a"/>
<rect x="141.20" y="220.65" width="2.7" height="2.7" fill="#1a1a1a"/>
<rect x="143.70" y="220.65" width="2.7" height="2.7" fill="#1a1a1a"/>
<rect x="146.20" y="220.65" width="2.7" height="2.7" fill="#1a1a1a"/>
<rect x="148.70" y="220.65" width="2.7" height="2.7" fill="#1a1a1a"/>
<rect x="151.20" y="220.65" width="2.7" height="2.7" fill="#1a1a1a"/>
<rect x="129.20" y="222.65" width="2.7" height="2.7" fill="#1a1a1a"/>
<rect x="131.59" y="222.65" width="2.7" height="2.7" fill="#1a1a1a"/>
<rect x="133.98" y="222.65" width="2.7" height="2.7" fill="#1a1a1a"/>
<rect x="136.37" y="222.65" width="2.7" height="2.7" fill="#1a1a1a"/>
<rect x="138.76" y="222.65" width="2.7" height="2.7" fill="#1a1a1a"/>
<rect x="141.14" y="222.65" width="2.7" height="2.7" fill="#1a1a1a"/>
<rect x="143.53" y="222.65" width="2.7" height="2.7" fill="#1a1a1a"/>
<rect x="145.92" y="222.65" width="2.7" height="2.7" fill="#1a1a1a"/>
<rect x="148.31" y="222.65" width="2.7" height="2.7" fill="#1a1a1a"/>
<rect x="150.70" y="222.65" width="2.7" height="2.7" fill="#1a1a1a"/>
<rect x="134.95" y="224.85" width="2.7" height="2.7" fill="#1a1a1a"/>
<rect x="137.45" y="224.85" width="2.7" height="2.7" fill="#1a1a1a"/>
<rect x="139.95" y="224.85" width="2.7" height="2.7" fill="#1a1a1a"/>
<rect x="142.45" y="224.85" width="2.7" height="2.7" fill="#1a1a1a"/>
<rect x="144.95" y="224.85" width="2.7" height="2.7" fill="#1a1a1a"/>
<rect x="136.95" y="227.15" width="2.7" height="2.7" fill="#1a1a1a"/>
<rect x="139.95" y="227.15" width="2.7" height="2.7" fill="#1a1a1a"/>
<rect x="142.95" y="227.15" width="2.7" height="2.7" fill="#1a1a1a"/>
<rect x="138.45" y="229.65" width="2.7" height="2.7" fill="#1a1a1a"/>
<rect x="141.45" y="229.65" width="2.7" height="2.7" fill="#1a1a1a"/>
<rect x="138.45" y="232.15" width="2.7" height="2.7" fill="#1a1a1a"/>
<rect x="141.45" y="232.15" width="2.7" height="2.7" fill="#1a1a1a"/>
<rect x="138.45" y="234.65" width="2.7" height="2.7" fill="#1a1a1a"/>
<rect x="141.45" y="234.65" width="2.7" height="2.7" fill="#1a1a1a"/>
<rect x="137.20" y="237.15" width="2.7" height="2.7" fill="#1a1a1a"/>
<rect x="139.95" y="237.15" width="2.7" height="2.7" fill="#1a1a1a"/>
<rect x="142.70" y="237.15" width="2.7" height="2.7" fill="#1a1a1a"/>
<rect x="138.45" y="239.65" width="2.7" height="2.7" fill="#1a1a1a"/>
<rect x="141.45" y="239.65" width="2.7" height="2.7" fill="#1a1a1a"/>
<rect x="138.45" y="242.15" width="2.7" height="2.7" fill="#1a1a1a"/>
<rect x="141.45" y="242.15" width="2.7" height="2.7" fill="#1a1a1a"/>
<rect x="138.70" y="245.15" width="2.7" height="2.7" fill="#1a1a1a"/>
<rect x="141.20" y="245.15" width="2.7" height="2.7" fill="#1a1a1a"/>
<rect x="139.65" y="274.15" width="2.7" height="2.7" fill="#1a1a1a"/>
<rect x="139.65" y="276.45" width="2.7" height="2.7" fill="#1a1a1a"/>
<rect x="139.65" y="278.65" width="2.7" height="2.7" fill="#1a1a1a"/>
<rect x="139.65" y="283.15" width="2.7" height="2.7" fill="#1a1a1a"/>
<polyline points="233.50,211.00 233.50,206.50 306.50,206.50 306.50,211.00" fill="none" stroke="#1a1a1a" stroke-width="0.95"/>
<polyline points="233.50,220.00 233.50,215.50 270.50,215.50 270.50,220.00" fill="none" stroke="#1a1a1a" stroke-width="0.95"/>
<line x1="209.50" y1="219.50" x2="209.50" y2="304.00" stroke="#1a1a1a" stroke-width="1.1"/>
<line x1="206.30" y1="222.50" x2="209.30" y2="222.50" stroke="#1a1a1a" stroke-width="1.0"/>
<line x1="206.30" y1="262.50" x2="209.30" y2="262.50" stroke="#1a1a1a" stroke-width="1.0"/>
<line x1="206.30" y1="303.50" x2="209.30" y2="303.50" stroke="#1a1a1a" stroke-width="1.0"/>
<line x1="208.80" y1="303.50" x2="330.30" y2="303.50" stroke="#1a1a1a" stroke-width="1.1"/>
<line x1="233.50" y1="303.50" x2="233.50" y2="306.50" stroke="#1a1a1a" stroke-width="1.0"/>
<line x1="270.50" y1="303.50" x2="270.50" y2="306.50" stroke="#1a1a1a" stroke-width="1.0"/>
<line x1="306.50" y1="303.50" x2="306.50" y2="306.50" stroke="#1a1a1a" stroke-width="1.0"/>
<circle cx="233.40" cy="282.80" r="1.55" fill="#b4042c"/>
<circle cx="233.40" cy="291.00" r="1.55" fill="#b4042c"/>
<circle cx="234.50" cy="294.30" r="1.55" fill="#b4042c"/>
<circle cx="226.00" cy="300.50" r="1.55" fill="#b4042c"/>
<circle cx="230.00" cy="300.20" r="1.55" fill="#b4042c"/>
<circle cx="238.00" cy="300.50" r="1.55" fill="#b4042c"/>
<circle cx="242.00" cy="301.00" r="1.55" fill="#b4042c"/>
<circle cx="224.00" cy="302.50" r="1.55" fill="#b4042c"/>
<circle cx="228.00" cy="302.60" r="1.55" fill="#b4042c"/>
<circle cx="232.00" cy="302.50" r="1.55" fill="#b4042c"/>
<circle cx="236.00" cy="302.60" r="1.55" fill="#b4042c"/>
<circle cx="240.00" cy="302.50" r="1.55" fill="#b4042c"/>
<circle cx="244.00" cy="302.60" r="1.55" fill="#b4042c"/>
<circle cx="231.40" cy="296.30" r="1.55" fill="#193d82"/>
<circle cx="236.10" cy="294.70" r="1.55" fill="#193d82"/>
<circle cx="223.00" cy="301.00" r="1.55" fill="#193d82"/>
<circle cx="227.00" cy="302.20" r="1.55" fill="#193d82"/>
<circle cx="231.00" cy="301.30" r="1.55" fill="#193d82"/>
<circle cx="235.00" cy="301.50" r="1.55" fill="#193d82"/>
<circle cx="239.00" cy="302.80" r="1.55" fill="#193d82"/>
<circle cx="229.50" cy="298.50" r="1.55" fill="#193d82"/>
<path d="M270.40 241.37L272.10 244.26L268.70 244.26Z" fill="#1a1a1a"/>
<path d="M270.40 251.97L272.10 254.86L268.70 254.86Z" fill="#1a1a1a"/>
<path d="M270.40 258.77L272.10 261.66L268.70 261.66Z" fill="#1a1a1a"/>
<path d="M270.40 262.37L272.10 265.26L268.70 265.26Z" fill="#1a1a1a"/>
<path d="M270.40 274.57L272.10 277.46L268.70 277.46Z" fill="#1a1a1a"/>
<path d="M270.40 275.67L272.10 278.56L268.70 278.56Z" fill="#1a1a1a"/>
<path d="M270.40 288.77L272.10 291.66L268.70 291.66Z" fill="#1a1a1a"/>
<path d="M258.90 300.57L260.60 303.46L257.20 303.46Z" fill="#1a1a1a"/>
<path d="M261.46 300.57L263.16 303.46L259.76 303.46Z" fill="#1a1a1a"/>
<path d="M264.01 300.57L265.71 303.46L262.31 303.46Z" fill="#1a1a1a"/>
<path d="M266.57 300.57L268.27 303.46L264.87 303.46Z" fill="#1a1a1a"/>
<path d="M269.12 300.57L270.82 303.46L267.42 303.46Z" fill="#1a1a1a"/>
<path d="M271.68 300.57L273.38 303.46L269.98 303.46Z" fill="#1a1a1a"/>
<path d="M274.23 300.57L275.93 303.46L272.53 303.46Z" fill="#1a1a1a"/>
<path d="M276.79 300.57L278.49 303.46L275.09 303.46Z" fill="#1a1a1a"/>
<path d="M279.34 300.57L281.04 303.46L277.64 303.46Z" fill="#1a1a1a"/>
<path d="M281.90 300.57L283.60 303.46L280.20 303.46Z" fill="#1a1a1a"/>
<path d="M265.90 298.77L267.60 301.66L264.20 301.66Z" fill="#1a1a1a"/>
<path d="M268.90 298.77L270.60 301.66L267.20 301.66Z" fill="#1a1a1a"/>
<path d="M271.90 298.77L273.60 301.66L270.20 301.66Z" fill="#1a1a1a"/>
<path d="M274.90 298.77L276.60 301.66L273.20 301.66Z" fill="#1a1a1a"/>
<rect x="306.75" y="223.15" width="2.7" height="2.7" fill="#1a1a1a"/>
<rect x="305.05" y="225.25" width="2.7" height="2.7" fill="#1a1a1a"/>
<rect x="305.05" y="228.45" width="2.7" height="2.7" fill="#1a1a1a"/>
<rect x="305.05" y="238.65" width="2.7" height="2.7" fill="#1a1a1a"/>
<rect x="305.05" y="246.45" width="2.7" height="2.7" fill="#1a1a1a"/>
<rect x="305.05" y="259.75" width="2.7" height="2.7" fill="#1a1a1a"/>
<rect x="301.10" y="273.38" width="2.7" height="2.7" fill="#1a1a1a"/>
<rect x="303.12" y="274.05" width="2.7" height="2.7" fill="#1a1a1a"/>
<rect x="305.14" y="274.73" width="2.7" height="2.7" fill="#1a1a1a"/>
<rect x="307.16" y="274.73" width="2.7" height="2.7" fill="#1a1a1a"/>
<rect x="305.14" y="281.12" width="2.7" height="2.7" fill="#1a1a1a"/>
<rect x="302.78" y="285.83" width="2.7" height="2.7" fill="#1a1a1a"/>
<rect x="305.14" y="286.84" width="2.7" height="2.7" fill="#1a1a1a"/>
<rect x="302.78" y="289.87" width="2.7" height="2.7" fill="#1a1a1a"/>
<rect x="306.15" y="289.53" width="2.7" height="2.7" fill="#1a1a1a"/>
<rect x="308.17" y="290.88" width="2.7" height="2.7" fill="#1a1a1a"/>
<rect x="304.80" y="291.55" width="2.7" height="2.7" fill="#1a1a1a"/>
<rect x="299.75" y="292.56" width="2.7" height="2.7" fill="#1a1a1a"/>
<rect x="301.77" y="292.89" width="2.7" height="2.7" fill="#1a1a1a"/>
<rect x="310.86" y="293.57" width="2.7" height="2.7" fill="#1a1a1a"/>
<rect x="299.75" y="294.91" width="2.7" height="2.7" fill="#1a1a1a"/>
<rect x="294.37" y="297.94" width="2.7" height="2.7" fill="#1a1a1a"/>
<rect x="293.70" y="300.30" width="2.7" height="2.7" fill="#1a1a1a"/>
<rect x="296.05" y="300.30" width="2.7" height="2.7" fill="#1a1a1a"/>
<rect x="298.07" y="300.97" width="2.7" height="2.7" fill="#1a1a1a"/>
<rect x="300.76" y="298.28" width="2.7" height="2.7" fill="#1a1a1a"/>
<rect x="302.11" y="300.30" width="2.7" height="2.7" fill="#1a1a1a"/>
<rect x="304.13" y="298.95" width="2.7" height="2.7" fill="#1a1a1a"/>
<rect x="306.15" y="300.30" width="2.7" height="2.7" fill="#1a1a1a"/>
<rect x="308.84" y="298.28" width="2.7" height="2.7" fill="#1a1a1a"/>
<rect x="310.86" y="300.63" width="2.7" height="2.7" fill="#1a1a1a"/>
<rect x="312.88" y="300.30" width="2.7" height="2.7" fill="#1a1a1a"/>
<rect x="314.89" y="301.64" width="2.7" height="2.7" fill="#1a1a1a"/>
<rect x="316.24" y="301.98" width="2.7" height="2.7" fill="#1a1a1a"/>
<rect x="296.73" y="302.32" width="2.7" height="2.7" fill="#1a1a1a"/>
<rect x="299.42" y="302.32" width="2.7" height="2.7" fill="#1a1a1a"/>
<rect x="303.45" y="302.32" width="2.7" height="2.7" fill="#1a1a1a"/>
<rect x="307.49" y="302.32" width="2.7" height="2.7" fill="#1a1a1a"/>
<rect x="311.53" y="302.32" width="2.7" height="2.7" fill="#1a1a1a"/>
<polyline points="398.50,210.00 398.50,205.50 471.50,205.50 471.50,210.00" fill="none" stroke="#1a1a1a" stroke-width="0.95"/>
<polyline points="398.50,217.00 398.50,212.50 435.50,212.50 435.50,217.00" fill="none" stroke="#1a1a1a" stroke-width="0.95"/>
<line x1="374.50" y1="219.50" x2="374.50" y2="303.80" stroke="#1a1a1a" stroke-width="1.1"/>
<line x1="371.20" y1="222.50" x2="374.20" y2="222.50" stroke="#1a1a1a" stroke-width="1.0"/>
<line x1="371.20" y1="262.50" x2="374.20" y2="262.50" stroke="#1a1a1a" stroke-width="1.0"/>
<line x1="371.20" y1="303.50" x2="374.20" y2="303.50" stroke="#1a1a1a" stroke-width="1.0"/>
<line x1="373.70" y1="303.50" x2="496.20" y2="303.50" stroke="#1a1a1a" stroke-width="1.1"/>
<line x1="398.50" y1="303.30" x2="398.50" y2="306.30" stroke="#1a1a1a" stroke-width="1.0"/>
<line x1="435.50" y1="303.30" x2="435.50" y2="306.30" stroke="#1a1a1a" stroke-width="1.0"/>
<line x1="471.50" y1="303.30" x2="471.50" y2="306.30" stroke="#1a1a1a" stroke-width="1.0"/>
<circle cx="388.00" cy="224.10" r="1.55" fill="#b4042c"/>
<circle cx="392.30" cy="224.10" r="1.55" fill="#b4042c"/>
<circle cx="396.90" cy="224.50" r="1.55" fill="#b4042c"/>
<circle cx="405.40" cy="226.60" r="1.55" fill="#b4042c"/>
<circle cx="396.90" cy="228.10" r="1.55" fill="#b4042c"/>
<circle cx="401.20" cy="229.40" r="1.55" fill="#b4042c"/>
<circle cx="398.60" cy="236.20" r="1.55" fill="#b4042c"/>
<circle cx="398.60" cy="268.90" r="1.55" fill="#b4042c"/>
<circle cx="394.40" cy="303.30" r="1.55" fill="#b4042c"/>
<circle cx="398.60" cy="303.30" r="1.55" fill="#b4042c"/>
<circle cx="402.80" cy="303.30" r="1.55" fill="#b4042c"/>
<circle cx="401.20" cy="224.50" r="1.55" fill="#193d82"/>
<circle cx="409.60" cy="225.60" r="1.55" fill="#193d82"/>
<circle cx="396.50" cy="232.30" r="1.55" fill="#193d82"/>
<circle cx="398.60" cy="254.80" r="1.55" fill="#193d82"/>
<circle cx="398.60" cy="283.80" r="1.55" fill="#193d82"/>
<circle cx="398.60" cy="288.00" r="1.55" fill="#193d82"/>
<path d="M424.95 224.05L426.65 226.94L423.25 226.94Z" fill="#1a1a1a"/>
<path d="M431.03 224.05L432.73 226.94L429.33 226.94Z" fill="#1a1a1a"/>
<path d="M436.97 224.47L438.67 227.36L435.27 227.36Z" fill="#1a1a1a"/>
<path d="M440.51 224.05L442.21 226.94L438.81 226.94Z" fill="#1a1a1a"/>
<path d="M446.17 224.05L447.87 226.94L444.47 226.94Z" fill="#1a1a1a"/>
<path d="M430.61 226.87L432.31 229.76L428.91 229.76Z" fill="#1a1a1a"/>
<path d="M433.44 226.87L435.14 229.76L431.74 229.76Z" fill="#1a1a1a"/>
<path d="M436.69 226.45L438.39 229.34L434.99 229.34Z" fill="#1a1a1a"/>
<path d="M439.80 226.45L441.50 229.34L438.10 229.34Z" fill="#1a1a1a"/>
<path d="M442.63 226.45L444.33 229.34L440.93 229.34Z" fill="#1a1a1a"/>
<path d="M431.03 229.70L432.73 232.59L429.33 232.59Z" fill="#1a1a1a"/>
<path d="M434.14 229.70L435.84 232.59L432.44 232.59Z" fill="#1a1a1a"/>
<path d="M437.26 229.28L438.96 232.17L435.56 232.17Z" fill="#1a1a1a"/>
<path d="M440.51 230.13L442.21 233.02L438.81 233.02Z" fill="#1a1a1a"/>
<path d="M443.34 230.69L445.04 233.58L441.64 233.58Z" fill="#1a1a1a"/>
<path d="M430.61 232.96L432.31 235.85L428.91 235.85Z" fill="#1a1a1a"/>
<path d="M434.14 233.24L435.84 236.13L432.44 236.13Z" fill="#1a1a1a"/>
<path d="M436.97 232.96L438.67 235.85L435.27 235.85Z" fill="#1a1a1a"/>
<path d="M439.80 233.52L441.50 236.41L438.10 236.41Z" fill="#1a1a1a"/>
<path d="M431.03 235.79L432.73 238.68L429.33 238.68Z" fill="#1a1a1a"/>
<path d="M436.97 236.07L438.67 238.96L435.27 238.96Z" fill="#1a1a1a"/>
<path d="M434.14 238.90L435.84 241.79L432.44 241.79Z" fill="#1a1a1a"/>
<path d="M436.97 238.19L438.67 241.08L435.27 241.08Z" fill="#1a1a1a"/>
<path d="M439.80 238.61L441.50 241.50L438.10 241.50Z" fill="#1a1a1a"/>
<path d="M436.69 242.01L438.39 244.90L434.99 244.90Z" fill="#1a1a1a"/>
<path d="M434.14 248.51L435.84 251.40L432.44 251.40Z" fill="#1a1a1a"/>
<path d="M436.97 249.93L438.67 252.82L435.27 252.82Z" fill="#1a1a1a"/>
<path d="M440.51 249.08L442.21 251.97L438.81 251.97Z" fill="#1a1a1a"/>
<path d="M433.44 252.33L435.14 255.22L431.74 255.22Z" fill="#1a1a1a"/>
<path d="M436.97 252.76L438.67 255.65L435.27 255.65Z" fill="#1a1a1a"/>
<path d="M440.51 253.32L442.21 256.21L438.81 256.21Z" fill="#1a1a1a"/>
<path d="M430.61 254.74L432.31 257.63L428.91 257.63Z" fill="#1a1a1a"/>
<path d="M433.44 254.46L435.14 257.35L431.74 257.35Z" fill="#1a1a1a"/>
<path d="M430.61 260.11L432.31 263.00L428.91 263.00Z" fill="#1a1a1a"/>
<path d="M434.14 260.11L435.84 263.00L432.44 263.00Z" fill="#1a1a1a"/>
<path d="M436.97 260.40L438.67 263.29L435.27 263.29Z" fill="#1a1a1a"/>
<path d="M440.51 261.24L442.21 264.13L438.81 264.13Z" fill="#1a1a1a"/>
<path d="M434.14 264.36L435.84 267.25L432.44 267.25Z" fill="#1a1a1a"/>
<path d="M436.97 264.36L438.67 267.25L435.27 267.25Z" fill="#1a1a1a"/>
<path d="M434.14 267.89L435.84 270.78L432.44 270.78Z" fill="#1a1a1a"/>
<path d="M436.97 267.89L438.67 270.78L435.27 270.78Z" fill="#1a1a1a"/>
<path d="M432.02 273.13L433.72 276.02L430.32 276.02Z" fill="#1a1a1a"/>
<path d="M434.85 272.56L436.55 275.45L433.15 275.45Z" fill="#1a1a1a"/>
<path d="M438.67 273.97L440.37 276.86L436.97 276.86Z" fill="#1a1a1a"/>
<path d="M436.97 279.92L438.67 282.81L435.27 282.81Z" fill="#1a1a1a"/>
<path d="M430.61 282.74L432.31 285.63L428.91 285.63Z" fill="#1a1a1a"/>
<path d="M433.86 282.46L435.56 285.35L432.16 285.35Z" fill="#1a1a1a"/>
<path d="M436.97 284.16L438.67 287.05L435.27 287.05Z" fill="#1a1a1a"/>
<path d="M434.14 286.28L435.84 289.17L432.44 289.17Z" fill="#1a1a1a"/>
<path d="M435.56 296.89L437.26 299.78L433.86 299.78Z" fill="#1a1a1a"/>
<path d="M424.95 301.56L426.65 304.45L423.25 304.45Z" fill="#1a1a1a"/>
<path d="M427.78 300.85L429.48 303.74L426.08 303.74Z" fill="#1a1a1a"/>
<path d="M430.61 301.56L432.31 304.45L428.91 304.45Z" fill="#1a1a1a"/>
<path d="M433.44 301.56L435.14 304.45L431.74 304.45Z" fill="#1a1a1a"/>
<path d="M436.27 301.56L437.97 304.45L434.57 304.45Z" fill="#1a1a1a"/>
<path d="M439.09 301.56L440.79 304.45L437.39 304.45Z" fill="#1a1a1a"/>
<path d="M441.92 301.56L443.62 304.45L440.22 304.45Z" fill="#1a1a1a"/>
<path d="M444.75 301.56L446.45 304.45L443.05 304.45Z" fill="#1a1a1a"/>
<path d="M446.87 301.56L448.57 304.45L445.17 304.45Z" fill="#1a1a1a"/>
<rect x="459.67" y="221.18" width="2.7" height="2.7" fill="#1a1a1a"/>
<rect x="470.28" y="221.18" width="2.7" height="2.7" fill="#1a1a1a"/>
<rect x="473.81" y="222.31" width="2.7" height="2.7" fill="#1a1a1a"/>
<rect x="459.67" y="224.43" width="2.7" height="2.7" fill="#1a1a1a"/>
<rect x="463.20" y="224.43" width="2.7" height="2.7" fill="#1a1a1a"/>
<rect x="466.74" y="225.14" width="2.7" height="2.7" fill="#1a1a1a"/>
<rect x="470.28" y="224.43" width="2.7" height="2.7" fill="#1a1a1a"/>
<rect x="473.81" y="223.72" width="2.7" height="2.7" fill="#1a1a1a"/>
<rect x="477.35" y="223.72" width="2.7" height="2.7" fill="#1a1a1a"/>
<rect x="480.88" y="223.72" width="2.7" height="2.7" fill="#1a1a1a"/>
<rect x="466.74" y="227.68" width="2.7" height="2.7" fill="#1a1a1a"/>
<rect x="470.28" y="227.26" width="2.7" height="2.7" fill="#1a1a1a"/>
<rect x="473.81" y="226.83" width="2.7" height="2.7" fill="#1a1a1a"/>
<rect x="470.28" y="230.09" width="2.7" height="2.7" fill="#1a1a1a"/>
<rect x="473.81" y="230.09" width="2.7" height="2.7" fill="#1a1a1a"/>
<rect x="476.64" y="229.66" width="2.7" height="2.7" fill="#1a1a1a"/>
<rect x="463.20" y="233.91" width="2.7" height="2.7" fill="#1a1a1a"/>
<rect x="466.74" y="233.34" width="2.7" height="2.7" fill="#1a1a1a"/>
<rect x="470.28" y="234.33" width="2.7" height="2.7" fill="#1a1a1a"/>
<rect x="473.81" y="232.92" width="2.7" height="2.7" fill="#1a1a1a"/>
<rect x="477.35" y="232.92" width="2.7" height="2.7" fill="#1a1a1a"/>
<rect x="466.74" y="238.57" width="2.7" height="2.7" fill="#1a1a1a"/>
<rect x="470.28" y="239.28" width="2.7" height="2.7" fill="#1a1a1a"/>
<rect x="473.81" y="239.28" width="2.7" height="2.7" fill="#1a1a1a"/>
<rect x="473.81" y="242.82" width="2.7" height="2.7" fill="#1a1a1a"/>
<rect x="470.28" y="244.94" width="2.7" height="2.7" fill="#1a1a1a"/>
<rect x="470.28" y="250.60" width="2.7" height="2.7" fill="#1a1a1a"/>
<rect x="468.15" y="254.56" width="2.7" height="2.7" fill="#1a1a1a"/>
<rect x="471.69" y="254.56" width="2.7" height="2.7" fill="#1a1a1a"/>
<rect x="470.28" y="262.62" width="2.7" height="2.7" fill="#1a1a1a"/>
<rect x="473.81" y="261.63" width="2.7" height="2.7" fill="#1a1a1a"/>
<rect x="470.28" y="267.57" width="2.7" height="2.7" fill="#1a1a1a"/>
<rect x="470.28" y="270.12" width="2.7" height="2.7" fill="#1a1a1a"/>
<rect x="470.28" y="272.94" width="2.7" height="2.7" fill="#1a1a1a"/>
<rect x="466.74" y="277.47" width="2.7" height="2.7" fill="#1a1a1a"/>
<rect x="470.28" y="280.30" width="2.7" height="2.7" fill="#1a1a1a"/>
<rect x="466.74" y="284.54" width="2.7" height="2.7" fill="#1a1a1a"/>
<rect x="470.28" y="287.37" width="2.7" height="2.7" fill="#1a1a1a"/>
<rect x="470.28" y="292.32" width="2.7" height="2.7" fill="#1a1a1a"/>
<rect x="468.15" y="296.14" width="2.7" height="2.7" fill="#1a1a1a"/>
<rect x="471.69" y="296.14" width="2.7" height="2.7" fill="#1a1a1a"/>
<rect x="466.74" y="301.52" width="2.7" height="2.7" fill="#1a1a1a"/>
<rect x="470.28" y="301.23" width="2.7" height="2.7" fill="#1a1a1a"/>
<rect x="473.81" y="301.52" width="2.7" height="2.7" fill="#1a1a1a"/>
<polyline points="68.50,367.00 68.50,362.50 141.50,362.50 141.50,367.00" fill="none" stroke="#1a1a1a" stroke-width="0.95"/>
<polyline points="68.50,375.00 68.50,370.50 104.50,370.50 104.50,375.00" fill="none" stroke="#1a1a1a" stroke-width="0.95"/>
<line x1="44.50" y1="374.20" x2="44.50" y2="458.70" stroke="#1a1a1a" stroke-width="1.1"/>
<line x1="41.40" y1="377.50" x2="44.40" y2="377.50" stroke="#1a1a1a" stroke-width="1.0"/>
<line x1="41.40" y1="417.50" x2="44.40" y2="417.50" stroke="#1a1a1a" stroke-width="1.0"/>
<line x1="41.40" y1="458.50" x2="44.40" y2="458.50" stroke="#1a1a1a" stroke-width="1.0"/>
<line x1="43.90" y1="458.50" x2="165.00" y2="458.50" stroke="#1a1a1a" stroke-width="1.1"/>
<line x1="68.50" y1="458.20" x2="68.50" y2="461.20" stroke="#1a1a1a" stroke-width="1.0"/>
<line x1="104.50" y1="458.20" x2="104.50" y2="461.20" stroke="#1a1a1a" stroke-width="1.0"/>
<line x1="141.50" y1="458.20" x2="141.50" y2="461.20" stroke="#1a1a1a" stroke-width="1.0"/>
<circle cx="57.90" cy="457.90" r="1.55" fill="#b4042c"/>
<circle cx="59.60" cy="456.70" r="1.55" fill="#b4042c"/>
<circle cx="61.90" cy="457.30" r="1.55" fill="#b4042c"/>
<circle cx="64.80" cy="454.80" r="1.55" fill="#b4042c"/>
<circle cx="64.80" cy="458.50" r="1.55" fill="#b4042c"/>
<circle cx="70.60" cy="457.90" r="1.55" fill="#b4042c"/>
<circle cx="75.80" cy="454.10" r="1.55" fill="#b4042c"/>
<circle cx="79.80" cy="457.90" r="1.55" fill="#b4042c"/>
<circle cx="62.50" cy="455.50" r="1.55" fill="#b4042c"/>
<circle cx="66.50" cy="457.30" r="1.55" fill="#193d82"/>
<circle cx="68.60" cy="455.00" r="1.55" fill="#193d82"/>
<circle cx="70.00" cy="458.50" r="1.55" fill="#193d82"/>
<circle cx="72.30" cy="455.60" r="1.55" fill="#193d82"/>
<circle cx="73.50" cy="457.30" r="1.55" fill="#193d82"/>
<circle cx="77.50" cy="458.50" r="1.55" fill="#193d82"/>
<circle cx="67.20" cy="456.20" r="1.55" fill="#193d82"/>
<path d="M104.90 377.77L106.60 380.66L103.20 380.66Z" fill="#1a1a1a"/>
<path d="M104.90 396.37L106.60 399.26L103.20 399.26Z" fill="#1a1a1a"/>
<path d="M104.90 402.07L106.60 404.96L103.20 404.96Z" fill="#1a1a1a"/>
<path d="M104.90 424.47L106.60 427.36L103.20 427.36Z" fill="#1a1a1a"/>
<path d="M104.90 432.57L106.60 435.46L103.20 435.46Z" fill="#1a1a1a"/>
<path d="M104.90 435.97L106.60 438.86L103.20 438.86Z" fill="#1a1a1a"/>
<path d="M104.90 443.17L106.60 446.06L103.20 446.06Z" fill="#1a1a1a"/>
<path d="M104.90 445.97L106.60 448.86L103.20 448.86Z" fill="#1a1a1a"/>
<path d="M104.90 449.87L106.60 452.76L103.20 452.76Z" fill="#1a1a1a"/>
<path d="M93.90 455.57L95.60 458.46L92.20 458.46Z" fill="#1a1a1a"/>
<path d="M96.34 455.57L98.04 458.46L94.64 458.46Z" fill="#1a1a1a"/>
<path d="M98.79 455.57L100.49 458.46L97.09 458.46Z" fill="#1a1a1a"/>
<path d="M101.23 455.57L102.93 458.46L99.53 458.46Z" fill="#1a1a1a"/>
<path d="M103.68 455.57L105.38 458.46L101.98 458.46Z" fill="#1a1a1a"/>
<path d="M106.12 455.57L107.82 458.46L104.42 458.46Z" fill="#1a1a1a"/>
<path d="M108.57 455.57L110.27 458.46L106.87 458.46Z" fill="#1a1a1a"/>
<path d="M111.01 455.57L112.71 458.46L109.31 458.46Z" fill="#1a1a1a"/>
<path d="M113.46 455.57L115.16 458.46L111.76 458.46Z" fill="#1a1a1a"/>
<path d="M115.90 455.57L117.60 458.46L114.20 458.46Z" fill="#1a1a1a"/>
<path d="M97.90 453.67L99.60 456.56L96.20 456.56Z" fill="#1a1a1a"/>
<path d="M100.70 453.67L102.40 456.56L99.00 456.56Z" fill="#1a1a1a"/>
<path d="M103.50 453.67L105.20 456.56L101.80 456.56Z" fill="#1a1a1a"/>
<path d="M106.30 453.67L108.00 456.56L104.60 456.56Z" fill="#1a1a1a"/>
<path d="M109.10 453.67L110.80 456.56L107.40 456.56Z" fill="#1a1a1a"/>
<path d="M111.90 453.67L113.60 456.56L110.20 456.56Z" fill="#1a1a1a"/>
<rect x="139.95" y="388.75" width="2.7" height="2.7" fill="#1a1a1a"/>
<rect x="140.25" y="390.85" width="2.7" height="2.7" fill="#1a1a1a"/>
<rect x="139.95" y="394.05" width="2.7" height="2.7" fill="#1a1a1a"/>
<rect x="139.95" y="397.25" width="2.7" height="2.7" fill="#1a1a1a"/>
<rect x="139.95" y="407.75" width="2.7" height="2.7" fill="#1a1a1a"/>
<rect x="139.95" y="429.05" width="2.7" height="2.7" fill="#1a1a1a"/>
<rect x="139.95" y="431.15" width="2.7" height="2.7" fill="#1a1a1a"/>
<rect x="139.95" y="436.45" width="2.7" height="2.7" fill="#1a1a1a"/>
<rect x="141.65" y="436.95" width="2.7" height="2.7" fill="#1a1a1a"/>
<rect x="138.45" y="436.95" width="2.7" height="2.7" fill="#1a1a1a"/>
<rect x="140.45" y="439.15" width="2.7" height="2.7" fill="#1a1a1a"/>
<rect x="140.45" y="441.15" width="2.7" height="2.7" fill="#1a1a1a"/>
<rect x="140.45" y="443.15" width="2.7" height="2.7" fill="#1a1a1a"/>
<rect x="140.45" y="445.15" width="2.7" height="2.7" fill="#1a1a1a"/>
<rect x="140.45" y="447.15" width="2.7" height="2.7" fill="#1a1a1a"/>
<rect x="137.65" y="449.15" width="2.7" height="2.7" fill="#1a1a1a"/>
<rect x="140.15" y="448.65" width="2.7" height="2.7" fill="#1a1a1a"/>
<rect x="142.65" y="449.15" width="2.7" height="2.7" fill="#1a1a1a"/>
<rect x="136.95" y="451.15" width="2.7" height="2.7" fill="#1a1a1a"/>
<rect x="139.65" y="451.45" width="2.7" height="2.7" fill="#1a1a1a"/>
<rect x="142.45" y="451.15" width="2.7" height="2.7" fill="#1a1a1a"/>
<rect x="138.65" y="453.15" width="2.7" height="2.7" fill="#1a1a1a"/>
<rect x="141.65" y="453.15" width="2.7" height="2.7" fill="#1a1a1a"/>
<rect x="128.20" y="455.85" width="2.7" height="2.7" fill="#1a1a1a"/>
<rect x="130.55" y="455.85" width="2.7" height="2.7" fill="#1a1a1a"/>
<rect x="132.90" y="455.85" width="2.7" height="2.7" fill="#1a1a1a"/>
<rect x="135.25" y="455.85" width="2.7" height="2.7" fill="#1a1a1a"/>
<rect x="137.60" y="455.85" width="2.7" height="2.7" fill="#1a1a1a"/>
<rect x="139.95" y="455.85" width="2.7" height="2.7" fill="#1a1a1a"/>
<rect x="142.30" y="455.85" width="2.7" height="2.7" fill="#1a1a1a"/>
<rect x="144.65" y="455.85" width="2.7" height="2.7" fill="#1a1a1a"/>
<rect x="147.00" y="455.85" width="2.7" height="2.7" fill="#1a1a1a"/>
<rect x="149.35" y="455.85" width="2.7" height="2.7" fill="#1a1a1a"/>
<rect x="151.70" y="455.85" width="2.7" height="2.7" fill="#1a1a1a"/>
<rect x="129.45" y="454.25" width="2.7" height="2.7" fill="#1a1a1a"/>
<rect x="132.45" y="454.25" width="2.7" height="2.7" fill="#1a1a1a"/>
<rect x="135.45" y="454.25" width="2.7" height="2.7" fill="#1a1a1a"/>
<rect x="138.45" y="454.25" width="2.7" height="2.7" fill="#1a1a1a"/>
<rect x="141.45" y="454.25" width="2.7" height="2.7" fill="#1a1a1a"/>
<rect x="144.45" y="454.25" width="2.7" height="2.7" fill="#1a1a1a"/>
<rect x="147.45" y="454.25" width="2.7" height="2.7" fill="#1a1a1a"/>
<rect x="150.45" y="454.25" width="2.7" height="2.7" fill="#1a1a1a"/>
<circle cx="185.30" cy="381.10" r="2.0" fill="#b4042c"/>
<circle cx="185.30" cy="396.10" r="2.0" fill="#193d82"/>
<line x1="186.70" y1="432.50" x2="195.30" y2="432.50" stroke="#5b2a7e" stroke-width="1.0"/>
<circle cx="191.00" cy="432.10" r="1.7" fill="#5b2a7e"/>
<line x1="233.40" y1="432.50" x2="242.40" y2="432.50" stroke="#63b246" stroke-width="1.0"/>
<circle cx="237.90" cy="432.10" r="1.7" fill="#63b246"/>
<line x1="186.70" y1="441.50" x2="195.30" y2="441.50" stroke="#b4042c" stroke-width="1.0"/>
<circle cx="191.00" cy="441.70" r="1.7" fill="#b4042c"/>
<line x1="233.40" y1="441.50" x2="242.40" y2="441.50" stroke="#2d5599" stroke-width="1.0"/>
<circle cx="237.90" cy="441.70" r="1.7" fill="#2d5599"/>
<line x1="205.90" y1="450.50" x2="214.50" y2="450.50" stroke="#000" stroke-width="1.0"/>
<circle cx="210.20" cy="451.00" r="1.7" fill="#000"/>
<line x1="314.50" y1="387.70" x2="314.50" y2="458.90" stroke="#1a1a1a" stroke-width="1.1"/>
<line x1="311.40" y1="390.50" x2="314.40" y2="390.50" stroke="#1a1a1a" stroke-width="1.0"/>
<line x1="311.40" y1="407.50" x2="314.40" y2="407.50" stroke="#1a1a1a" stroke-width="1.0"/>
<line x1="311.40" y1="424.50" x2="314.40" y2="424.50" stroke="#1a1a1a" stroke-width="1.0"/>
<line x1="311.40" y1="441.50" x2="314.40" y2="441.50" stroke="#1a1a1a" stroke-width="1.0"/>
<line x1="311.40" y1="458.50" x2="314.40" y2="458.50" stroke="#1a1a1a" stroke-width="1.0"/>
<line x1="313.90" y1="458.50" x2="383.50" y2="458.50" stroke="#1a1a1a" stroke-width="1.1"/>
<line x1="334.50" y1="458.40" x2="334.50" y2="461.20" stroke="#1a1a1a" stroke-width="1.0"/>
<line x1="363.50" y1="458.40" x2="363.50" y2="461.20" stroke="#1a1a1a" stroke-width="1.0"/>
<line x1="315.20" y1="448.50" x2="383.50" y2="448.50" stroke="#222" stroke-width="1.4" stroke-dasharray="3 2.2"/>
<line x1="334.40" y1="457.30" x2="363.50" y2="458.20" stroke="#63b246" stroke-width="1.3"/>
<circle cx="334.40" cy="457.30" r="2.0" fill="#63b246"/>
<circle cx="363.50" cy="458.20" r="2.0" fill="#63b246"/>
<line x1="334.40" y1="456.50" x2="363.50" y2="458.00" stroke="#2d5599" stroke-width="1.3"/>
<circle cx="334.40" cy="456.50" r="2.0" fill="#2d5599"/>
<circle cx="363.50" cy="458.00" r="2.0" fill="#2d5599"/>
<line x1="334.40" y1="447.90" x2="363.50" y2="458.30" stroke="#5b2a7e" stroke-width="1.3"/>
<circle cx="334.40" cy="447.90" r="2.0" fill="#5b2a7e"/>
<circle cx="363.50" cy="458.30" r="2.0" fill="#5b2a7e"/>
<line x1="334.40" y1="458.40" x2="363.50" y2="454.30" stroke="#000" stroke-width="1.3"/>
<circle cx="334.40" cy="458.40" r="2.0" fill="#000"/>
<circle cx="363.50" cy="454.30" r="2.0" fill="#000"/>
<line x1="334.20" y1="393.50" x2="363.70" y2="432.30" stroke="#b4042c" stroke-width="1.3"/>
<circle cx="334.20" cy="393.50" r="2.0" fill="#b4042c"/>
<circle cx="363.70" cy="432.30" r="2.0" fill="#b4042c"/>
<line x1="422.50" y1="388.70" x2="422.50" y2="458.80" stroke="#1a1a1a" stroke-width="1.1"/>
<line x1="419.20" y1="390.50" x2="422.20" y2="390.50" stroke="#1a1a1a" stroke-width="1.0"/>
<line x1="419.20" y1="404.50" x2="422.20" y2="404.50" stroke="#1a1a1a" stroke-width="1.0"/>
<line x1="419.20" y1="417.50" x2="422.20" y2="417.50" stroke="#1a1a1a" stroke-width="1.0"/>
<line x1="419.20" y1="431.50" x2="422.20" y2="431.50" stroke="#1a1a1a" stroke-width="1.0"/>
<line x1="419.20" y1="444.50" x2="422.20" y2="444.50" stroke="#1a1a1a" stroke-width="1.0"/>
<line x1="419.20" y1="458.50" x2="422.20" y2="458.50" stroke="#1a1a1a" stroke-width="1.0"/>
<line x1="421.70" y1="458.50" x2="490.00" y2="458.50" stroke="#1a1a1a" stroke-width="1.1"/>
<line x1="441.50" y1="458.30" x2="441.50" y2="461.10" stroke="#1a1a1a" stroke-width="1.0"/>
<line x1="470.50" y1="458.30" x2="470.50" y2="461.10" stroke="#1a1a1a" stroke-width="1.0"/>
<line x1="422.20" y1="444.50" x2="490.40" y2="444.50" stroke="#222" stroke-width="1.4" stroke-dasharray="3 2.2"/>
<line x1="441.90" y1="457.70" x2="470.80" y2="458.20" stroke="#63b246" stroke-width="1.3"/>
<circle cx="441.90" cy="457.70" r="2.0" fill="#63b246"/>
<circle cx="470.80" cy="458.20" r="2.0" fill="#63b246"/>
<line x1="441.90" y1="452.50" x2="470.80" y2="454.50" stroke="#000" stroke-width="1.3"/>
<circle cx="441.90" cy="452.50" r="2.0" fill="#000"/>
<circle cx="470.80" cy="454.50" r="2.0" fill="#000"/>
<line x1="441.90" y1="439.80" x2="470.80" y2="454.00" stroke="#5b2a7e" stroke-width="1.3"/>
<circle cx="441.90" cy="439.80" r="2.0" fill="#5b2a7e"/>
<circle cx="470.80" cy="454.00" r="2.0" fill="#5b2a7e"/>
<line x1="441.40" y1="406.90" x2="470.80" y2="452.80" stroke="#2d5599" stroke-width="1.3"/>
<circle cx="441.40" cy="406.90" r="2.0" fill="#2d5599"/>
<circle cx="470.80" cy="452.80" r="2.0" fill="#2d5599"/>
<line x1="441.40" y1="401.00" x2="470.80" y2="451.00" stroke="#b4042c" stroke-width="1.3"/>
<circle cx="441.40" cy="401.00" r="2.0" fill="#b4042c"/>
<circle cx="470.80" cy="451.00" r="2.0" fill="#b4042c"/>
<polyline points="68.50,521.00 68.50,516.50 139.50,516.50 139.50,521.00" fill="none" stroke="#1a1a1a" stroke-width="0.95"/>
<polyline points="68.50,530.50 68.50,526.50 104.50,526.50 104.50,530.50" fill="none" stroke="#1a1a1a" stroke-width="0.95"/>
<line x1="44.50" y1="529.50" x2="44.50" y2="613.90" stroke="#1a1a1a" stroke-width="1.1"/>
<line x1="41.40" y1="532.50" x2="44.40" y2="532.50" stroke="#1a1a1a" stroke-width="1.0"/>
<line x1="41.40" y1="572.50" x2="44.40" y2="572.50" stroke="#1a1a1a" stroke-width="1.0"/>
<line x1="41.40" y1="613.50" x2="44.40" y2="613.50" stroke="#1a1a1a" stroke-width="1.0"/>
<line x1="43.90" y1="613.50" x2="157.00" y2="613.50" stroke="#1a1a1a" stroke-width="1.1"/>
<line x1="68.50" y1="613.40" x2="68.50" y2="616.40" stroke="#1a1a1a" stroke-width="1.0"/>
<line x1="104.50" y1="613.40" x2="104.50" y2="616.40" stroke="#1a1a1a" stroke-width="1.0"/>
<line x1="141.50" y1="613.40" x2="141.50" y2="616.40" stroke="#1a1a1a" stroke-width="1.0"/>
<circle cx="68.60" cy="536.60" r="1.55" fill="#b4042c"/>
<circle cx="68.60" cy="560.50" r="1.55" fill="#b4042c"/>
<circle cx="68.60" cy="580.40" r="1.55" fill="#b4042c"/>
<circle cx="75.00" cy="583.20" r="1.55" fill="#b4042c"/>
<circle cx="68.60" cy="586.40" r="1.55" fill="#b4042c"/>
<circle cx="68.30" cy="592.30" r="1.55" fill="#b4042c"/>
<circle cx="68.30" cy="601.20" r="1.55" fill="#b4042c"/>
<circle cx="74.60" cy="601.30" r="1.55" fill="#b4042c"/>
<circle cx="62.20" cy="604.20" r="1.55" fill="#b4042c"/>
<circle cx="65.40" cy="612.50" r="1.55" fill="#b4042c"/>
<circle cx="71.50" cy="611.10" r="1.55" fill="#b4042c"/>
<circle cx="62.30" cy="534.50" r="1.55" fill="#193d82"/>
<circle cx="68.60" cy="549.80" r="1.55" fill="#193d82"/>
<circle cx="62.30" cy="589.50" r="1.55" fill="#193d82"/>
<circle cx="68.30" cy="597.30" r="1.55" fill="#193d82"/>
<circle cx="74.60" cy="605.30" r="1.55" fill="#193d82"/>
<circle cx="68.30" cy="607.10" r="1.55" fill="#193d82"/>
<path d="M104.90 569.32L106.60 572.21L103.20 572.21Z" fill="#1a1a1a"/>
<path d="M104.90 579.01L106.60 581.90L103.20 581.90Z" fill="#1a1a1a"/>
<path d="M104.90 584.55L106.60 587.44L103.20 587.44Z" fill="#1a1a1a"/>
<path d="M104.34 588.43L106.04 591.32L102.64 591.32Z" fill="#1a1a1a"/>
<path d="M105.73 589.82L107.43 592.71L104.03 592.71Z" fill="#1a1a1a"/>
<path d="M103.93 592.59L105.63 595.48L102.23 595.48Z" fill="#1a1a1a"/>
<path d="M106.01 593.28L107.71 596.17L104.31 596.17Z" fill="#1a1a1a"/>
<path d="M104.34 596.05L106.04 598.94L102.64 598.94Z" fill="#1a1a1a"/>
<path d="M105.73 596.74L107.43 599.63L104.03 599.63Z" fill="#1a1a1a"/>
<path d="M103.24 598.82L104.94 601.71L101.54 601.71Z" fill="#1a1a1a"/>
<path d="M105.31 599.51L107.01 602.40L103.61 602.40Z" fill="#1a1a1a"/>
<path d="M103.93 601.59L105.63 604.48L102.23 604.48Z" fill="#1a1a1a"/>
<path d="M106.28 602.01L107.98 604.90L104.58 604.90Z" fill="#1a1a1a"/>
<path d="M104.50 601.77L106.20 604.66L102.80 604.66Z" fill="#1a1a1a"/>
<path d="M106.00 603.77L107.70 606.66L104.30 606.66Z" fill="#1a1a1a"/>
<path d="M103.50 604.77L105.20 607.66L101.80 607.66Z" fill="#1a1a1a"/>
<path d="M105.20 606.07L106.90 608.96L103.50 608.96Z" fill="#1a1a1a"/>
<path d="M100.50 606.77L102.20 609.66L98.80 609.66Z" fill="#1a1a1a"/>
<path d="M109.50 606.57L111.20 609.46L107.80 609.46Z" fill="#1a1a1a"/>
<path d="M94.50 608.27L96.20 611.16L92.80 611.16Z" fill="#1a1a1a"/>
<path d="M97.12 608.27L98.83 611.16L95.42 611.16Z" fill="#1a1a1a"/>
<path d="M99.75 608.27L101.45 611.16L98.05 611.16Z" fill="#1a1a1a"/>
<path d="M102.38 608.27L104.08 611.16L100.67 611.16Z" fill="#1a1a1a"/>
<path d="M105.00 608.27L106.70 611.16L103.30 611.16Z" fill="#1a1a1a"/>
<path d="M107.62 608.27L109.33 611.16L105.92 611.16Z" fill="#1a1a1a"/>
<path d="M110.25 608.27L111.95 611.16L108.55 611.16Z" fill="#1a1a1a"/>
<path d="M112.88 608.27L114.58 611.16L111.17 611.16Z" fill="#1a1a1a"/>
<path d="M115.50 608.27L117.20 611.16L113.80 611.16Z" fill="#1a1a1a"/>
<path d="M93.50 610.17L95.20 613.06L91.80 613.06Z" fill="#1a1a1a"/>
<path d="M96.06 610.17L97.76 613.06L94.36 613.06Z" fill="#1a1a1a"/>
<path d="M98.61 610.17L100.31 613.06L96.91 613.06Z" fill="#1a1a1a"/>
<path d="M101.17 610.17L102.87 613.06L99.47 613.06Z" fill="#1a1a1a"/>
<path d="M103.72 610.17L105.42 613.06L102.02 613.06Z" fill="#1a1a1a"/>
<path d="M106.28 610.17L107.98 613.06L104.58 613.06Z" fill="#1a1a1a"/>
<path d="M108.83 610.17L110.53 613.06L107.13 613.06Z" fill="#1a1a1a"/>
<path d="M111.39 610.17L113.09 613.06L109.69 613.06Z" fill="#1a1a1a"/>
<path d="M113.94 610.17L115.64 613.06L112.24 613.06Z" fill="#1a1a1a"/>
<path d="M116.50 610.17L118.20 613.06L114.80 613.06Z" fill="#1a1a1a"/>
<rect x="139.97" y="554.47" width="2.7" height="2.7" fill="#1a1a1a"/>
<rect x="139.97" y="565.27" width="2.7" height="2.7" fill="#1a1a1a"/>
<rect x="139.97" y="574.97" width="2.7" height="2.7" fill="#1a1a1a"/>
<rect x="139.97" y="579.81" width="2.7" height="2.7" fill="#1a1a1a"/>
<rect x="138.59" y="584.38" width="2.7" height="2.7" fill="#1a1a1a"/>
<rect x="141.36" y="584.38" width="2.7" height="2.7" fill="#1a1a1a"/>
<rect x="138.59" y="587.43" width="2.7" height="2.7" fill="#1a1a1a"/>
<rect x="141.36" y="588.82" width="2.7" height="2.7" fill="#1a1a1a"/>
<rect x="141.36" y="591.31" width="2.7" height="2.7" fill="#1a1a1a"/>
<rect x="132.36" y="595.74" width="2.7" height="2.7" fill="#1a1a1a"/>
<rect x="135.82" y="595.05" width="2.7" height="2.7" fill="#1a1a1a"/>
<rect x="139.28" y="595.74" width="2.7" height="2.7" fill="#1a1a1a"/>
<rect x="142.74" y="595.05" width="2.7" height="2.7" fill="#1a1a1a"/>
<rect x="145.51" y="594.36" width="2.7" height="2.7" fill="#1a1a1a"/>
<rect x="128.89" y="600.59" width="2.7" height="2.7" fill="#1a1a1a"/>
<rect x="132.36" y="599.90" width="2.7" height="2.7" fill="#1a1a1a"/>
<rect x="135.82" y="601.00" width="2.7" height="2.7" fill="#1a1a1a"/>
<rect x="139.28" y="599.90" width="2.7" height="2.7" fill="#1a1a1a"/>
<rect x="142.74" y="600.59" width="2.7" height="2.7" fill="#1a1a1a"/>
<rect x="147.59" y="599.62" width="2.7" height="2.7" fill="#1a1a1a"/>
<rect x="149.67" y="600.59" width="2.7" height="2.7" fill="#1a1a1a"/>
<rect x="128.89" y="604.05" width="2.7" height="2.7" fill="#1a1a1a"/>
<rect x="132.36" y="603.36" width="2.7" height="2.7" fill="#1a1a1a"/>
<rect x="135.82" y="604.05" width="2.7" height="2.7" fill="#1a1a1a"/>
<rect x="139.28" y="603.36" width="2.7" height="2.7" fill="#1a1a1a"/>
<rect x="142.74" y="604.74" width="2.7" height="2.7" fill="#1a1a1a"/>
<rect x="146.21" y="603.36" width="2.7" height="2.7" fill="#1a1a1a"/>
<rect x="150.36" y="604.05" width="2.7" height="2.7" fill="#1a1a1a"/>
<rect x="128.89" y="606.82" width="2.7" height="2.7" fill="#1a1a1a"/>
<rect x="132.36" y="607.51" width="2.7" height="2.7" fill="#1a1a1a"/>
<rect x="135.82" y="606.54" width="2.7" height="2.7" fill="#1a1a1a"/>
<rect x="139.28" y="607.51" width="2.7" height="2.7" fill="#1a1a1a"/>
<rect x="142.74" y="606.82" width="2.7" height="2.7" fill="#1a1a1a"/>
<rect x="146.21" y="607.51" width="2.7" height="2.7" fill="#1a1a1a"/>
<rect x="150.36" y="606.54" width="2.7" height="2.7" fill="#1a1a1a"/>
<rect x="128.89" y="609.59" width="2.7" height="2.7" fill="#1a1a1a"/>
<rect x="132.36" y="610.28" width="2.7" height="2.7" fill="#1a1a1a"/>
<rect x="135.82" y="609.59" width="2.7" height="2.7" fill="#1a1a1a"/>
<rect x="139.28" y="609.59" width="2.7" height="2.7" fill="#1a1a1a"/>
<rect x="143.44" y="610.28" width="2.7" height="2.7" fill="#1a1a1a"/>
<rect x="146.90" y="609.59" width="2.7" height="2.7" fill="#1a1a1a"/>
<rect x="150.36" y="610.28" width="2.7" height="2.7" fill="#1a1a1a"/>
<polyline points="242.50,520.50 242.50,516.50 316.50,516.50 316.50,520.50" fill="none" stroke="#1a1a1a" stroke-width="0.95"/>
<polyline points="242.50,528.50 242.50,524.50 279.50,524.50 279.50,528.50" fill="none" stroke="#1a1a1a" stroke-width="0.95"/>
<line x1="218.50" y1="529.90" x2="218.50" y2="613.80" stroke="#1a1a1a" stroke-width="1.1"/>
<line x1="215.50" y1="532.50" x2="218.50" y2="532.50" stroke="#1a1a1a" stroke-width="1.0"/>
<line x1="215.50" y1="613.50" x2="218.50" y2="613.50" stroke="#1a1a1a" stroke-width="1.0"/>
<line x1="216.70" y1="588.50" x2="218.50" y2="588.50" stroke="#1a1a1a" stroke-width="0.9"/>
<line x1="216.70" y1="574.50" x2="218.50" y2="574.50" stroke="#1a1a1a" stroke-width="0.9"/>
<line x1="216.70" y1="564.50" x2="218.50" y2="564.50" stroke="#1a1a1a" stroke-width="0.9"/>
<line x1="216.70" y1="556.50" x2="218.50" y2="556.50" stroke="#1a1a1a" stroke-width="0.9"/>
<line x1="216.70" y1="550.50" x2="218.50" y2="550.50" stroke="#1a1a1a" stroke-width="0.9"/>
<line x1="216.70" y1="544.50" x2="218.50" y2="544.50" stroke="#1a1a1a" stroke-width="0.9"/>
<line x1="216.70" y1="540.50" x2="218.50" y2="540.50" stroke="#1a1a1a" stroke-width="0.9"/>
<line x1="216.70" y1="536.50" x2="218.50" y2="536.50" stroke="#1a1a1a" stroke-width="0.9"/>
<line x1="218.00" y1="613.50" x2="339.50" y2="613.50" stroke="#1a1a1a" stroke-width="1.1"/>
<line x1="242.50" y1="613.30" x2="242.50" y2="616.30" stroke="#1a1a1a" stroke-width="1.0"/>
<line x1="279.50" y1="613.30" x2="279.50" y2="616.30" stroke="#1a1a1a" stroke-width="1.0"/>
<line x1="316.50" y1="613.30" x2="316.50" y2="616.30" stroke="#1a1a1a" stroke-width="1.0"/>
<circle cx="237.70" cy="539.80" r="1.55" fill="#b4042c"/>
<circle cx="243.00" cy="539.80" r="1.55" fill="#b4042c"/>
<circle cx="253.60" cy="544.50" r="1.55" fill="#b4042c"/>
<circle cx="237.70" cy="546.80" r="1.55" fill="#b4042c"/>
<circle cx="243.00" cy="546.20" r="1.55" fill="#b4042c"/>
<circle cx="248.30" cy="546.80" r="1.55" fill="#b4042c"/>
<circle cx="248.30" cy="564.10" r="1.55" fill="#b4042c"/>
<circle cx="243.00" cy="566.30" r="1.55" fill="#b4042c"/>
<circle cx="245.70" cy="570.50" r="1.55" fill="#b4042c"/>
<circle cx="240.20" cy="573.20" r="1.55" fill="#b4042c"/>
<circle cx="243.00" cy="534.50" r="1.55" fill="#193d82"/>
<circle cx="232.40" cy="544.00" r="1.55" fill="#193d82"/>
<circle cx="243.00" cy="552.50" r="1.55" fill="#193d82"/>
<circle cx="243.00" cy="556.70" r="1.55" fill="#193d82"/>
<circle cx="243.00" cy="563.10" r="1.55" fill="#193d82"/>
<circle cx="248.30" cy="560.50" r="1.55" fill="#193d82"/>
<path d="M276.22 541.78L277.92 544.67L274.52 544.67Z" fill="#1a1a1a"/>
<path d="M278.79 541.07L280.49 543.96L277.09 543.96Z" fill="#1a1a1a"/>
<path d="M281.20 541.78L282.90 544.67L279.50 544.67Z" fill="#1a1a1a"/>
<path d="M283.34 542.06L285.04 544.95L281.64 544.95Z" fill="#1a1a1a"/>
<path d="M277.93 543.91L279.63 546.80L276.23 546.80Z" fill="#1a1a1a"/>
<path d="M268.40 547.47L270.10 550.36L266.70 550.36Z" fill="#1a1a1a"/>
<path d="M271.25 549.32L272.95 552.21L269.55 552.21Z" fill="#1a1a1a"/>
<path d="M274.09 549.60L275.79 552.49L272.39 552.49Z" fill="#1a1a1a"/>
<path d="M276.94 548.18L278.64 551.07L275.24 551.07Z" fill="#1a1a1a"/>
<path d="M279.78 549.32L281.48 552.21L278.08 552.21Z" fill="#1a1a1a"/>
<path d="M282.63 549.60L284.33 552.49L280.93 552.49Z" fill="#1a1a1a"/>
<path d="M285.47 548.89L287.17 551.78L283.77 551.78Z" fill="#1a1a1a"/>
<path d="M288.32 548.18L290.02 551.07L286.62 551.07Z" fill="#1a1a1a"/>
<path d="M290.45 549.32L292.15 552.21L288.75 552.21Z" fill="#1a1a1a"/>
<path d="M271.25 552.73L272.95 555.62L269.55 555.62Z" fill="#1a1a1a"/>
<path d="M274.09 553.87L275.79 556.76L272.39 556.76Z" fill="#1a1a1a"/>
<path d="M276.94 552.73L278.64 555.62L275.24 555.62Z" fill="#1a1a1a"/>
<path d="M279.78 553.87L281.48 556.76L278.08 556.76Z" fill="#1a1a1a"/>
<path d="M283.34 553.16L285.04 556.05L281.64 556.05Z" fill="#1a1a1a"/>
<path d="M286.89 552.45L288.59 555.34L285.19 555.34Z" fill="#1a1a1a"/>
<path d="M289.03 553.87L290.73 556.76L287.33 556.76Z" fill="#1a1a1a"/>
<path d="M270.53 556.72L272.23 559.61L268.83 559.61Z" fill="#1a1a1a"/>
<path d="M273.38 557.43L275.08 560.32L271.68 560.32Z" fill="#1a1a1a"/>
<path d="M276.22 556.00L277.92 558.89L274.52 558.89Z" fill="#1a1a1a"/>
<path d="M279.07 557.43L280.77 560.32L277.37 560.32Z" fill="#1a1a1a"/>
<path d="M281.91 556.72L283.61 559.61L280.21 559.61Z" fill="#1a1a1a"/>
<path d="M285.47 557.43L287.17 560.32L283.77 560.32Z" fill="#1a1a1a"/>
<path d="M288.32 556.72L290.02 559.61L286.62 559.61Z" fill="#1a1a1a"/>
<path d="M270.53 560.70L272.23 563.59L268.83 563.59Z" fill="#1a1a1a"/>
<path d="M273.38 561.69L275.08 564.58L271.68 564.58Z" fill="#1a1a1a"/>
<path d="M276.22 560.27L277.92 563.16L274.52 563.16Z" fill="#1a1a1a"/>
<path d="M279.78 562.41L281.48 565.30L278.08 565.30Z" fill="#1a1a1a"/>
<path d="M282.63 561.27L284.33 564.16L280.93 564.16Z" fill="#1a1a1a"/>
<path d="M287.32 561.69L289.02 564.58L285.62 564.58Z" fill="#1a1a1a"/>
<path d="M273.38 564.97L275.08 567.86L271.68 567.86Z" fill="#1a1a1a"/>
<path d="M277.65 566.67L279.35 569.56L275.95 569.56Z" fill="#1a1a1a"/>
<path d="M280.49 566.39L282.19 569.28L278.79 569.28Z" fill="#1a1a1a"/>
<path d="M283.34 564.97L285.04 567.86L281.64 567.86Z" fill="#1a1a1a"/>
<path d="M285.47 564.54L287.17 567.43L283.77 567.43Z" fill="#1a1a1a"/>
<path d="M275.51 568.81L277.21 571.70L273.81 571.70Z" fill="#1a1a1a"/>
<path d="M277.65 569.52L279.35 572.41L275.95 572.41Z" fill="#1a1a1a"/>
<path d="M281.91 569.94L283.61 572.83L280.21 572.83Z" fill="#1a1a1a"/>
<path d="M275.51 573.79L277.21 576.68L273.81 576.68Z" fill="#1a1a1a"/>
<path d="M280.49 573.79L282.19 576.68L278.79 576.68Z" fill="#1a1a1a"/>
<path d="M282.63 573.50L284.33 576.39L280.93 576.39Z" fill="#1a1a1a"/>
<path d="M278.36 580.90L280.06 583.79L276.66 583.79Z" fill="#1a1a1a"/>
<path d="M279.78 580.61L281.48 583.50L278.08 583.50Z" fill="#1a1a1a"/>
<path d="M277.93 592.99L279.63 595.88L276.23 595.88Z" fill="#1a1a1a"/>
<path d="M280.49 590.85L282.19 593.74L278.79 593.74Z" fill="#1a1a1a"/>
<rect x="316.13" y="534.06" width="2.7" height="2.7" fill="#1a1a1a"/>
<rect x="311.86" y="536.76" width="2.7" height="2.7" fill="#1a1a1a"/>
<rect x="316.13" y="539.32" width="2.7" height="2.7" fill="#1a1a1a"/>
<rect x="316.13" y="544.30" width="2.7" height="2.7" fill="#1a1a1a"/>
<rect x="303.32" y="547.14" width="2.7" height="2.7" fill="#1a1a1a"/>
<rect x="307.59" y="546.43" width="2.7" height="2.7" fill="#1a1a1a"/>
<rect x="311.86" y="545.72" width="2.7" height="2.7" fill="#1a1a1a"/>
<rect x="320.39" y="546.43" width="2.7" height="2.7" fill="#1a1a1a"/>
<rect x="324.66" y="546.43" width="2.7" height="2.7" fill="#1a1a1a"/>
<rect x="303.32" y="552.12" width="2.7" height="2.7" fill="#1a1a1a"/>
<rect x="307.59" y="551.41" width="2.7" height="2.7" fill="#1a1a1a"/>
<rect x="311.86" y="550.70" width="2.7" height="2.7" fill="#1a1a1a"/>
<rect x="316.13" y="550.70" width="2.7" height="2.7" fill="#1a1a1a"/>
<rect x="320.39" y="551.41" width="2.7" height="2.7" fill="#1a1a1a"/>
<rect x="303.32" y="556.39" width="2.7" height="2.7" fill="#1a1a1a"/>
<rect x="307.59" y="554.25" width="2.7" height="2.7" fill="#1a1a1a"/>
<rect x="311.86" y="553.54" width="2.7" height="2.7" fill="#1a1a1a"/>
<rect x="316.13" y="554.25" width="2.7" height="2.7" fill="#1a1a1a"/>
<rect x="320.39" y="553.54" width="2.7" height="2.7" fill="#1a1a1a"/>
<rect x="307.59" y="557.81" width="2.7" height="2.7" fill="#1a1a1a"/>
<rect x="311.86" y="558.52" width="2.7" height="2.7" fill="#1a1a1a"/>
<rect x="316.13" y="558.52" width="2.7" height="2.7" fill="#1a1a1a"/>
<rect x="320.39" y="557.10" width="2.7" height="2.7" fill="#1a1a1a"/>
<rect x="307.59" y="561.37" width="2.7" height="2.7" fill="#1a1a1a"/>
<rect x="311.86" y="562.08" width="2.7" height="2.7" fill="#1a1a1a"/>
<rect x="316.13" y="561.37" width="2.7" height="2.7" fill="#1a1a1a"/>
<rect x="320.39" y="561.37" width="2.7" height="2.7" fill="#1a1a1a"/>
<rect x="307.59" y="565.92" width="2.7" height="2.7" fill="#1a1a1a"/>
<rect x="311.86" y="567.06" width="2.7" height="2.7" fill="#1a1a1a"/>
<rect x="316.13" y="567.34" width="2.7" height="2.7" fill="#1a1a1a"/>
<rect x="320.39" y="565.92" width="2.7" height="2.7" fill="#1a1a1a"/>
<rect x="311.86" y="570.61" width="2.7" height="2.7" fill="#1a1a1a"/>
<rect x="320.39" y="572.46" width="2.7" height="2.7" fill="#1a1a1a"/>
<rect x="316.13" y="572.75" width="2.7" height="2.7" fill="#1a1a1a"/>
<rect x="311.86" y="574.88" width="2.7" height="2.7" fill="#1a1a1a"/>
<rect x="316.13" y="574.17" width="2.7" height="2.7" fill="#1a1a1a"/>
<rect x="316.13" y="577.44" width="2.7" height="2.7" fill="#1a1a1a"/>
<rect x="313.99" y="594.08" width="2.7" height="2.7" fill="#1a1a1a"/>
<polyline points="415.50,520.50 415.50,516.50 488.50,516.50 488.50,520.50" fill="none" stroke="#1a1a1a" stroke-width="0.95"/>
<polyline points="415.50,529.50 415.50,525.50 451.50,525.50 451.50,529.50" fill="none" stroke="#1a1a1a" stroke-width="0.95"/>
<line x1="391.50" y1="529.90" x2="391.50" y2="613.70" stroke="#1a1a1a" stroke-width="1.1"/>
<line x1="388.40" y1="532.50" x2="391.40" y2="532.50" stroke="#1a1a1a" stroke-width="1.0"/>
<line x1="388.40" y1="572.50" x2="391.40" y2="572.50" stroke="#1a1a1a" stroke-width="1.0"/>
<line x1="388.40" y1="613.50" x2="391.40" y2="613.50" stroke="#1a1a1a" stroke-width="1.0"/>
<line x1="389.60" y1="560.50" x2="391.40" y2="560.50" stroke="#1a1a1a" stroke-width="0.9"/>
<line x1="389.60" y1="553.50" x2="391.40" y2="553.50" stroke="#1a1a1a" stroke-width="0.9"/>
<line x1="389.60" y1="548.50" x2="391.40" y2="548.50" stroke="#1a1a1a" stroke-width="0.9"/>
<line x1="389.60" y1="544.50" x2="391.40" y2="544.50" stroke="#1a1a1a" stroke-width="0.9"/>
<line x1="389.60" y1="541.50" x2="391.40" y2="541.50" stroke="#1a1a1a" stroke-width="0.9"/>
<line x1="389.60" y1="538.50" x2="391.40" y2="538.50" stroke="#1a1a1a" stroke-width="0.9"/>
<line x1="389.60" y1="536.50" x2="391.40" y2="536.50" stroke="#1a1a1a" stroke-width="0.9"/>
<line x1="389.60" y1="534.50" x2="391.40" y2="534.50" stroke="#1a1a1a" stroke-width="0.9"/>
<line x1="389.60" y1="601.50" x2="391.40" y2="601.50" stroke="#1a1a1a" stroke-width="0.9"/>
<line x1="389.60" y1="593.50" x2="391.40" y2="593.50" stroke="#1a1a1a" stroke-width="0.9"/>
<line x1="389.60" y1="588.50" x2="391.40" y2="588.50" stroke="#1a1a1a" stroke-width="0.9"/>
<line x1="389.60" y1="585.50" x2="391.40" y2="585.50" stroke="#1a1a1a" stroke-width="0.9"/>
<line x1="389.60" y1="581.50" x2="391.40" y2="581.50" stroke="#1a1a1a" stroke-width="0.9"/>
<line x1="389.60" y1="579.50" x2="391.40" y2="579.50" stroke="#1a1a1a" stroke-width="0.9"/>
<line x1="389.60" y1="576.50" x2="391.40" y2="576.50" stroke="#1a1a1a" stroke-width="0.9"/>
<line x1="389.60" y1="574.50" x2="391.40" y2="574.50" stroke="#1a1a1a" stroke-width="0.9"/>
<line x1="391.50" y1="613.20" x2="391.50" y2="615.80" stroke="#1a1a1a" stroke-width="1.0"/>
<line x1="390.90" y1="613.50" x2="501.70" y2="613.50" stroke="#1a1a1a" stroke-width="1.1"/>
<line x1="415.50" y1="613.20" x2="415.50" y2="616.20" stroke="#1a1a1a" stroke-width="1.0"/>
<line x1="451.50" y1="613.20" x2="451.50" y2="616.20" stroke="#1a1a1a" stroke-width="1.0"/>
<line x1="488.50" y1="613.20" x2="488.50" y2="616.20" stroke="#1a1a1a" stroke-width="1.0"/>
<circle cx="409.80" cy="582.70" r="1.55" fill="#b4042c"/>
<circle cx="415.50" cy="582.00" r="1.55" fill="#b4042c"/>
<circle cx="420.80" cy="581.40" r="1.55" fill="#b4042c"/>
<circle cx="426.10" cy="581.40" r="1.55" fill="#b4042c"/>
<circle cx="409.80" cy="589.40" r="1.55" fill="#b4042c"/>
<circle cx="415.50" cy="587.30" r="1.55" fill="#b4042c"/>
<circle cx="420.80" cy="585.20" r="1.55" fill="#b4042c"/>
<circle cx="420.80" cy="590.50" r="1.55" fill="#b4042c"/>
<circle cx="404.50" cy="581.60" r="1.55" fill="#193d82"/>
<circle cx="415.20" cy="594.70" r="1.55" fill="#193d82"/>
<circle cx="415.20" cy="603.70" r="1.55" fill="#193d82"/>
<path d="M450.48 571.80L452.18 574.69L448.78 574.69Z" fill="#1a1a1a"/>
<path d="M452.50 571.80L454.20 574.69L450.80 574.69Z" fill="#1a1a1a"/>
<path d="M445.77 575.57L447.47 578.46L444.07 578.46Z" fill="#1a1a1a"/>
<path d="M448.46 576.91L450.16 579.80L446.76 579.80Z" fill="#1a1a1a"/>
<path d="M451.15 576.64L452.85 579.53L449.45 579.53Z" fill="#1a1a1a"/>
<path d="M454.52 576.24L456.22 579.13L452.82 579.13Z" fill="#1a1a1a"/>
<path d="M456.53 576.91L458.23 579.80L454.83 579.80Z" fill="#1a1a1a"/>
<path d="M447.79 578.53L449.49 581.42L446.09 581.42Z" fill="#1a1a1a"/>
<path d="M450.48 579.34L452.18 582.23L448.78 582.23Z" fill="#1a1a1a"/>
<path d="M453.17 578.93L454.87 581.82L451.47 581.82Z" fill="#1a1a1a"/>
<path d="M455.19 578.53L456.89 581.42L453.49 581.42Z" fill="#1a1a1a"/>
<path d="M443.08 580.95L444.78 583.84L441.38 583.84Z" fill="#1a1a1a"/>
<path d="M446.44 581.22L448.14 584.11L444.74 584.11Z" fill="#1a1a1a"/>
<path d="M457.88 580.95L459.58 583.84L456.18 583.84Z" fill="#1a1a1a"/>
<path d="M440.38 584.32L442.08 587.21L438.68 587.21Z" fill="#1a1a1a"/>
<path d="M442.40 583.64L444.10 586.53L440.70 586.53Z" fill="#1a1a1a"/>
<path d="M445.09 584.99L446.79 587.88L443.39 587.88Z" fill="#1a1a1a"/>
<path d="M447.79 585.66L449.49 588.55L446.09 588.55Z" fill="#1a1a1a"/>
<path d="M450.48 586.33L452.18 589.22L448.78 589.22Z" fill="#1a1a1a"/>
<path d="M453.17 584.99L454.87 587.88L451.47 587.88Z" fill="#1a1a1a"/>
<path d="M455.86 584.32L457.56 587.21L454.16 587.21Z" fill="#1a1a1a"/>
<path d="M458.55 583.64L460.25 586.53L456.85 586.53Z" fill="#1a1a1a"/>
<path d="M461.24 584.32L462.94 587.21L459.54 587.21Z" fill="#1a1a1a"/>
<path d="M462.59 583.64L464.29 586.53L460.89 586.53Z" fill="#1a1a1a"/>
<path d="M445.77 587.01L447.47 589.90L444.07 589.90Z" fill="#1a1a1a"/>
<path d="M455.19 587.68L456.89 590.57L453.49 590.57Z" fill="#1a1a1a"/>
<rect x="480.08" y="551.05" width="2.7" height="2.7" fill="#1a1a1a"/>
<rect x="484.52" y="553.74" width="2.7" height="2.7" fill="#1a1a1a"/>
<rect x="488.83" y="552.40" width="2.7" height="2.7" fill="#1a1a1a"/>
<rect x="492.87" y="550.65" width="2.7" height="2.7" fill="#1a1a1a"/>
<rect x="480.08" y="558.72" width="2.7" height="2.7" fill="#1a1a1a"/>
<rect x="484.52" y="559.53" width="2.7" height="2.7" fill="#1a1a1a"/>
<rect x="488.83" y="560.47" width="2.7" height="2.7" fill="#1a1a1a"/>
<rect x="492.87" y="557.78" width="2.7" height="2.7" fill="#1a1a1a"/>
<rect x="496.91" y="559.13" width="2.7" height="2.7" fill="#1a1a1a"/>
<rect x="476.45" y="563.57" width="2.7" height="2.7" fill="#1a1a1a"/>
<rect x="480.08" y="562.76" width="2.7" height="2.7" fill="#1a1a1a"/>
<rect x="484.52" y="564.51" width="2.7" height="2.7" fill="#1a1a1a"/>
<rect x="488.83" y="563.84" width="2.7" height="2.7" fill="#1a1a1a"/>
<rect x="492.87" y="562.49" width="2.7" height="2.7" fill="#1a1a1a"/>
<rect x="496.91" y="562.49" width="2.7" height="2.7" fill="#1a1a1a"/>
<rect x="487.49" y="565.18" width="2.7" height="2.7" fill="#1a1a1a"/>
<rect x="491.52" y="565.18" width="2.7" height="2.7" fill="#1a1a1a"/>
<rect x="488.83" y="568.95" width="2.7" height="2.7" fill="#1a1a1a"/>
<rect x="492.87" y="568.95" width="2.7" height="2.7" fill="#1a1a1a"/>
<rect x="480.08" y="571.64" width="2.7" height="2.7" fill="#1a1a1a"/>
<rect x="484.52" y="571.91" width="2.7" height="2.7" fill="#1a1a1a"/>
<rect x="484.52" y="574.34" width="2.7" height="2.7" fill="#1a1a1a"/>
<rect x="492.87" y="572.99" width="2.7" height="2.7" fill="#1a1a1a"/>
<rect x="486.81" y="577.97" width="2.7" height="2.7" fill="#1a1a1a"/>
<rect x="484.52" y="582.68" width="2.7" height="2.7" fill="#1a1a1a"/>
<rect x="480.08" y="586.05" width="2.7" height="2.7" fill="#1a1a1a"/>
<rect x="488.83" y="585.37" width="2.7" height="2.7" fill="#1a1a1a"/>
<rect x="492.87" y="587.39" width="2.7" height="2.7" fill="#1a1a1a"/>
<rect x="480.08" y="590.08" width="2.7" height="2.7" fill="#1a1a1a"/>
<rect x="488.83" y="590.08" width="2.7" height="2.7" fill="#1a1a1a"/>
<g style="filter:grayscale(1)"><text x="7.40" y="17.50" font-size="12.2" text-anchor="start" textLength="8.81" lengthAdjust="spacingAndGlyphs" font-weight="bold" fill="#000">A</text>
<text x="100.00" y="31.90" font-size="10.2" text-anchor="middle" textLength="48.40" lengthAdjust="spacingAndGlyphs">Basal p-Erk</text>
<text x="99.90" y="46.20" font-size="8.2" text-anchor="middle" textLength="6.60" lengthAdjust="spacingAndGlyphs">**</text>
<text x="82.30" y="53.40" font-size="8.2" text-anchor="middle" textLength="3.50" lengthAdjust="spacingAndGlyphs">*</text>
<text x="115.40" y="51.60" font-size="7.0" text-anchor="middle" textLength="6.90" lengthAdjust="spacingAndGlyphs">ns</text>
<text x="38.30" y="61.96" font-size="9.0" text-anchor="end" textLength="4.75" lengthAdjust="spacingAndGlyphs">6</text>
<text x="38.30" y="98.86" font-size="9.0" text-anchor="end" textLength="4.75" lengthAdjust="spacingAndGlyphs">3</text>
<text x="38.30" y="135.86" font-size="9.0" text-anchor="end" textLength="4.75" lengthAdjust="spacingAndGlyphs">0</text>
<text x="66.40" y="146.20" font-size="8.8" text-anchor="middle" textLength="16.00" lengthAdjust="spacingAndGlyphs">REG</text>
<text x="99.80" y="146.20" font-size="8.8" text-anchor="middle" textLength="7.40" lengthAdjust="spacingAndGlyphs">M</text>
<text x="133.50" y="146.20" font-size="8.8" text-anchor="middle" textLength="13.00" lengthAdjust="spacingAndGlyphs">UM</text>
<text x="117.90" y="161.70" font-size="8.8" text-anchor="middle" textLength="25.60" lengthAdjust="spacingAndGlyphs">INDOL</text>
<text x="15.40" y="94.70" font-size="9.7" text-anchor="middle" textLength="37.80" lengthAdjust="spacingAndGlyphs" transform="rotate(-90 15.40 94.70)">Basal p-Erk</text>
<text x="27.60" y="94.70" font-size="9.7" text-anchor="middle" textLength="105.60" lengthAdjust="spacingAndGlyphs" transform="rotate(-90 27.60 94.70)">(normalized to healthy B cells)</text>
<text x="259.40" y="31.90" font-size="10.2" text-anchor="middle" textLength="49.50" lengthAdjust="spacingAndGlyphs">Basal p-Akt</text>
<text x="259.50" y="41.10" font-size="7.0" text-anchor="middle" textLength="6.90" lengthAdjust="spacingAndGlyphs">ns</text>
<text x="242.50" y="48.30" font-size="7.0" text-anchor="middle" textLength="6.90" lengthAdjust="spacingAndGlyphs">ns</text>
<text x="276.80" y="48.30" font-size="7.0" text-anchor="middle" textLength="6.90" lengthAdjust="spacingAndGlyphs">ns</text>
<text x="196.20" y="59.36" font-size="9.0" text-anchor="end" textLength="4.75" lengthAdjust="spacingAndGlyphs">2</text>
<text x="196.20" y="97.56" font-size="9.0" text-anchor="end" textLength="4.75" lengthAdjust="spacingAndGlyphs">1</text>
<text x="196.20" y="135.76" font-size="9.0" text-anchor="end" textLength="4.75" lengthAdjust="spacingAndGlyphs">0</text>
<text x="225.30" y="146.20" font-size="8.8" text-anchor="middle" textLength="16.00" lengthAdjust="spacingAndGlyphs">REG</text>
<text x="259.90" y="146.20" font-size="8.8" text-anchor="middle" textLength="7.40" lengthAdjust="spacingAndGlyphs">M</text>
<text x="294.10" y="146.20" font-size="8.8" text-anchor="middle" textLength="13.00" lengthAdjust="spacingAndGlyphs">UM</text>
<text x="278.30" y="161.60" font-size="8.8" text-anchor="middle" textLength="25.60" lengthAdjust="spacingAndGlyphs">INDOL</text>
<text x="173.90" y="93.00" font-size="9.7" text-anchor="middle" textLength="38.10" lengthAdjust="spacingAndGlyphs" transform="rotate(-90 173.90 93.00)">Basal p-Akt</text>
<text x="185.80" y="93.60" font-size="9.7" text-anchor="middle" textLength="105.50" lengthAdjust="spacingAndGlyphs" transform="rotate(-90 185.80 93.60)">(normalized to healthy B cells)</text>
<text x="326.90" y="17.10" font-size="12.2" text-anchor="start" textLength="8.81" lengthAdjust="spacingAndGlyphs" font-weight="bold" fill="#000">B</text>
<text x="419.30" y="31.90" font-size="10.2" text-anchor="middle" textLength="24.70" lengthAdjust="spacingAndGlyphs">LAIR1</text>
<text x="419.80" y="41.30" font-size="8.2" text-anchor="middle" textLength="3.50" lengthAdjust="spacingAndGlyphs">*</text>
<text x="402.00" y="49.70" font-size="8.2" text-anchor="middle" textLength="3.50" lengthAdjust="spacingAndGlyphs">*</text>
<text x="437.60" y="47.90" font-size="7.0" text-anchor="middle" textLength="6.90" lengthAdjust="spacingAndGlyphs">ns</text>
<text x="355.30" y="58.26" font-size="9.0" text-anchor="end" textLength="14.26" lengthAdjust="spacingAndGlyphs">100</text>
<text x="355.30" y="97.06" font-size="9.0" text-anchor="end" textLength="9.51" lengthAdjust="spacingAndGlyphs">50</text>
<text x="355.30" y="135.86" font-size="9.0" text-anchor="end" textLength="4.75" lengthAdjust="spacingAndGlyphs">0</text>
<text x="384.80" y="146.20" font-size="8.8" text-anchor="middle" textLength="16.00" lengthAdjust="spacingAndGlyphs">REG</text>
<text x="419.90" y="146.20" font-size="8.8" text-anchor="middle" textLength="7.40" lengthAdjust="spacingAndGlyphs">M</text>
<text x="454.80" y="146.20" font-size="8.8" text-anchor="middle" textLength="13.00" lengthAdjust="spacingAndGlyphs">UM</text>
<text x="438.90" y="161.60" font-size="8.8" text-anchor="middle" textLength="25.60" lengthAdjust="spacingAndGlyphs">INDOL</text>
<text x="335.00" y="92.80" font-size="9.6" text-anchor="middle" textLength="57.30" lengthAdjust="spacingAndGlyphs" transform="rotate(-90 335.00 92.80)">% LAIR1 positive</text>
<text x="7.20" y="183.60" font-size="12.2" text-anchor="start" textLength="8.81" lengthAdjust="spacingAndGlyphs" font-weight="bold" fill="#000">C</text>
<text x="104.40" y="197.70" font-size="10.2" text-anchor="middle" textLength="24.20" lengthAdjust="spacingAndGlyphs">ROR1</text>
<text x="104.60" y="207.00" font-size="8.2" text-anchor="middle" textLength="3.50" lengthAdjust="spacingAndGlyphs">*</text>
<text x="86.40" y="212.70" font-size="7.0" text-anchor="middle" textLength="6.90" lengthAdjust="spacingAndGlyphs">ns</text>
<text x="38.10" y="224.96" font-size="9.0" text-anchor="end" textLength="14.26" lengthAdjust="spacingAndGlyphs">100</text>
<text x="38.10" y="265.56" font-size="9.0" text-anchor="end" textLength="9.51" lengthAdjust="spacingAndGlyphs">50</text>
<text x="38.10" y="306.16" font-size="9.0" text-anchor="end" textLength="4.75" lengthAdjust="spacingAndGlyphs">0</text>
<text x="68.40" y="316.90" font-size="8.8" text-anchor="middle" textLength="16.00" lengthAdjust="spacingAndGlyphs">REG</text>
<text x="104.40" y="316.90" font-size="8.8" text-anchor="middle" textLength="25.60" lengthAdjust="spacingAndGlyphs">INDOL</text>
<text x="141.00" y="316.90" font-size="8.8" text-anchor="middle" textLength="23.00" lengthAdjust="spacingAndGlyphs">PROG</text>
<text x="18.50" y="261.10" font-size="9.6" text-anchor="middle" textLength="57.10" lengthAdjust="spacingAndGlyphs" transform="rotate(-90 18.50 261.10)">% ROR1 positive</text>
<text x="175.20" y="183.60" font-size="12.2" text-anchor="start" textLength="8.81" lengthAdjust="spacingAndGlyphs" font-weight="bold" fill="#000">D</text>
<text x="270.20" y="197.90" font-size="10.2" text-anchor="middle" textLength="25.00" lengthAdjust="spacingAndGlyphs">CD38</text>
<text x="269.90" y="207.60" font-size="8.2" text-anchor="middle" textLength="3.50" lengthAdjust="spacingAndGlyphs">*</text>
<text x="252.00" y="214.50" font-size="7.0" text-anchor="middle" textLength="6.90" lengthAdjust="spacingAndGlyphs">ns</text>
<text x="203.10" y="224.76" font-size="9.0" text-anchor="end" textLength="14.26" lengthAdjust="spacingAndGlyphs">100</text>
<text x="203.10" y="265.46" font-size="9.0" text-anchor="end" textLength="9.51" lengthAdjust="spacingAndGlyphs">50</text>
<text x="203.10" y="306.06" font-size="9.0" text-anchor="end" textLength="4.75" lengthAdjust="spacingAndGlyphs">0</text>
<text x="233.60" y="316.90" font-size="8.8" text-anchor="middle" textLength="16.00" lengthAdjust="spacingAndGlyphs">REG</text>
<text x="270.40" y="316.90" font-size="8.8" text-anchor="middle" textLength="25.60" lengthAdjust="spacingAndGlyphs">INDOL</text>
<text x="306.40" y="316.90" font-size="8.8" text-anchor="middle" textLength="23.00" lengthAdjust="spacingAndGlyphs">PROG</text>
<text x="183.10" y="261.80" font-size="9.6" text-anchor="middle" textLength="56.60" lengthAdjust="spacingAndGlyphs" transform="rotate(-90 183.10 261.80)">% CD38 positive</text>
<text x="340.20" y="183.60" font-size="12.2" text-anchor="start" textLength="8.14" lengthAdjust="spacingAndGlyphs" font-weight="bold" fill="#000">E</text>
<text x="434.90" y="198.30" font-size="10.2" text-anchor="middle" textLength="82.20" lengthAdjust="spacingAndGlyphs">CD62L/L-selection</text>
<text x="434.60" y="205.20" font-size="7.0" text-anchor="middle" textLength="6.90" lengthAdjust="spacingAndGlyphs">ns</text>
<text x="417.00" y="211.80" font-size="7.0" text-anchor="middle" textLength="6.90" lengthAdjust="spacingAndGlyphs">ns</text>
<text x="368.00" y="224.96" font-size="9.0" text-anchor="end" textLength="14.26" lengthAdjust="spacingAndGlyphs">100</text>
<text x="368.00" y="265.46" font-size="9.0" text-anchor="end" textLength="9.51" lengthAdjust="spacingAndGlyphs">50</text>
<text x="368.00" y="305.86" font-size="9.0" text-anchor="end" textLength="4.75" lengthAdjust="spacingAndGlyphs">0</text>
<text x="398.60" y="316.70" font-size="8.8" text-anchor="middle" textLength="16.00" lengthAdjust="spacingAndGlyphs">REG</text>
<text x="435.40" y="316.70" font-size="8.8" text-anchor="middle" textLength="25.60" lengthAdjust="spacingAndGlyphs">INDOL</text>
<text x="471.40" y="316.70" font-size="8.8" text-anchor="middle" textLength="23.00" lengthAdjust="spacingAndGlyphs">PROG</text>
<text x="348.00" y="261.80" font-size="9.6" text-anchor="middle" textLength="59.50" lengthAdjust="spacingAndGlyphs" transform="rotate(-90 348.00 261.80)">% CD62L positive</text>
<text x="7.30" y="338.70" font-size="12.2" text-anchor="start" textLength="7.45" lengthAdjust="spacingAndGlyphs" font-weight="bold" fill="#000">F</text>
<text x="104.90" y="352.70" font-size="10.2" text-anchor="middle" textLength="31.30" lengthAdjust="spacingAndGlyphs">CD49d</text>
<text x="104.70" y="363.10" font-size="8.2" text-anchor="middle" textLength="3.50" lengthAdjust="spacingAndGlyphs">*</text>
<text x="86.60" y="371.70" font-size="8.2" text-anchor="middle" textLength="3.50" lengthAdjust="spacingAndGlyphs">*</text>
<text x="38.20" y="379.66" font-size="9.0" text-anchor="end" textLength="14.26" lengthAdjust="spacingAndGlyphs">100</text>
<text x="38.20" y="420.26" font-size="9.0" text-anchor="end" textLength="9.51" lengthAdjust="spacingAndGlyphs">50</text>
<text x="38.20" y="460.76" font-size="9.0" text-anchor="end" textLength="4.75" lengthAdjust="spacingAndGlyphs">0</text>
<text x="68.30" y="471.10" font-size="8.8" text-anchor="middle" textLength="16.00" lengthAdjust="spacingAndGlyphs">REG</text>
<text x="104.90" y="471.10" font-size="8.8" text-anchor="middle" textLength="25.60" lengthAdjust="spacingAndGlyphs">INDOL</text>
<text x="141.30" y="471.10" font-size="8.8" text-anchor="middle" textLength="23.00" lengthAdjust="spacingAndGlyphs">PROG</text>
<text x="18.60" y="416.30" font-size="9.6" text-anchor="middle" textLength="61.20" lengthAdjust="spacingAndGlyphs" transform="rotate(-90 18.60 416.30)">% CD49d positive</text>
<text x="193.80" y="371.10" font-size="7.7" text-anchor="start" textLength="67.30" lengthAdjust="spacingAndGlyphs">KEY (Fig. 4A-F, H-J)</text>
<text x="192.40" y="380.10" font-size="7.7" text-anchor="start" textLength="81.20" lengthAdjust="spacingAndGlyphs">Complete spontaneous</text>
<text x="192.40" y="386.50" font-size="7.7" text-anchor="start" textLength="36.00" lengthAdjust="spacingAndGlyphs">regression</text>
<text x="192.40" y="395.10" font-size="7.7" text-anchor="start" textLength="68.30" lengthAdjust="spacingAndGlyphs">Partial spontaneous</text>
<text x="192.40" y="401.30" font-size="7.7" text-anchor="start" textLength="36.00" lengthAdjust="spacingAndGlyphs">regression</text>
<text x="206.80" y="425.40" font-size="7.7" text-anchor="start" textLength="45.80" lengthAdjust="spacingAndGlyphs">KEY (Fig. 4G)</text>
<text x="198.80" y="435.00" font-size="8.0" text-anchor="start" textLength="21.50" lengthAdjust="spacingAndGlyphs">CLL01</text>
<text x="245.30" y="435.00" font-size="8.0" text-anchor="start" textLength="22.10" lengthAdjust="spacingAndGlyphs">CLL02</text>
<text x="198.80" y="444.60" font-size="8.0" text-anchor="start" textLength="21.50" lengthAdjust="spacingAndGlyphs">CLL05</text>
<text x="245.30" y="444.60" font-size="8.0" text-anchor="start" textLength="22.10" lengthAdjust="spacingAndGlyphs">CLL06</text>
<text x="218.40" y="453.90" font-size="8.0" text-anchor="start" textLength="21.50" lengthAdjust="spacingAndGlyphs">CLL12</text>
<text x="285.20" y="338.80" font-size="12.2" text-anchor="start" textLength="9.49" lengthAdjust="spacingAndGlyphs" font-weight="bold" fill="#000">G</text>
<text x="349.40" y="381.90" font-size="10.2" text-anchor="middle" textLength="25.40" lengthAdjust="spacingAndGlyphs">CD38</text>
<text x="308.80" y="392.76" font-size="9.0" text-anchor="end" textLength="9.51" lengthAdjust="spacingAndGlyphs">40</text>
<text x="308.80" y="409.76" font-size="9.0" text-anchor="end" textLength="9.51" lengthAdjust="spacingAndGlyphs">30</text>
<text x="308.80" y="426.76" font-size="9.0" text-anchor="end" textLength="9.51" lengthAdjust="spacingAndGlyphs">20</text>
<text x="308.80" y="443.86" font-size="9.0" text-anchor="end" textLength="9.51" lengthAdjust="spacingAndGlyphs">10</text>
<text x="308.80" y="460.96" font-size="9.0" text-anchor="end" textLength="4.75" lengthAdjust="spacingAndGlyphs">0</text>
<text x="334.80" y="469.70" font-size="8.8" text-anchor="middle" textLength="9.40" lengthAdjust="spacingAndGlyphs">T0</text>
<text x="363.70" y="469.70" font-size="8.8" text-anchor="middle" textLength="8.60" lengthAdjust="spacingAndGlyphs">T1</text>
<text x="293.20" y="423.40" font-size="9.6" text-anchor="middle" textLength="57.90" lengthAdjust="spacingAndGlyphs" transform="rotate(-90 293.20 423.40)">% CD38 positive</text>
<text x="355.80" y="409.60" font-size="7.0" text-anchor="middle" textLength="6.90" lengthAdjust="spacingAndGlyphs">ns</text>
<text x="456.40" y="381.90" font-size="10.2" text-anchor="middle" textLength="31.30" lengthAdjust="spacingAndGlyphs">CD49d</text>
<text x="416.60" y="393.56" font-size="9.0" text-anchor="end" textLength="9.51" lengthAdjust="spacingAndGlyphs">25</text>
<text x="416.60" y="407.06" font-size="9.0" text-anchor="end" textLength="9.51" lengthAdjust="spacingAndGlyphs">20</text>
<text x="416.60" y="420.46" font-size="9.0" text-anchor="end" textLength="9.51" lengthAdjust="spacingAndGlyphs">15</text>
<text x="416.60" y="433.86" font-size="9.0" text-anchor="end" textLength="9.51" lengthAdjust="spacingAndGlyphs">10</text>
<text x="416.60" y="447.36" font-size="9.0" text-anchor="end" textLength="4.75" lengthAdjust="spacingAndGlyphs">5</text>
<text x="416.60" y="460.86" font-size="9.0" text-anchor="end" textLength="4.75" lengthAdjust="spacingAndGlyphs">0</text>
<text x="442.00" y="469.70" font-size="8.8" text-anchor="middle" textLength="9.40" lengthAdjust="spacingAndGlyphs">T0</text>
<text x="470.80" y="469.70" font-size="8.8" text-anchor="middle" textLength="8.60" lengthAdjust="spacingAndGlyphs">T1</text>
<text x="400.60" y="423.40" font-size="9.6" text-anchor="middle" textLength="61.20" lengthAdjust="spacingAndGlyphs" transform="rotate(-90 400.60 423.40)">% CD49d positive</text>
<text x="457.20" y="413.90" font-size="7.0" text-anchor="middle" textLength="6.90" lengthAdjust="spacingAndGlyphs">ns</text>
<text x="7.30" y="493.60" font-size="12.2" text-anchor="start" textLength="8.81" lengthAdjust="spacingAndGlyphs" font-weight="bold" fill="#000">H</text>
<text x="104.30" y="508.50" font-size="10.2" text-anchor="middle" textLength="49.80" lengthAdjust="spacingAndGlyphs">CD95/FasR</text>
<text x="104.60" y="517.70" font-size="8.2" text-anchor="middle" textLength="6.60" lengthAdjust="spacingAndGlyphs">**</text>
<text x="84.70" y="527.50" font-size="8.2" text-anchor="middle" textLength="12.80" lengthAdjust="spacingAndGlyphs">****</text>
<text x="38.20" y="534.76" font-size="9.0" text-anchor="end" textLength="9.51" lengthAdjust="spacingAndGlyphs">60</text>
<text x="38.20" y="575.36" font-size="9.0" text-anchor="end" textLength="9.51" lengthAdjust="spacingAndGlyphs">30</text>
<text x="38.20" y="615.96" font-size="9.0" text-anchor="end" textLength="4.75" lengthAdjust="spacingAndGlyphs">0</text>
<text x="68.30" y="626.10" font-size="8.8" text-anchor="middle" textLength="16.00" lengthAdjust="spacingAndGlyphs">REG</text>
<text x="104.90" y="626.10" font-size="8.8" text-anchor="middle" textLength="25.60" lengthAdjust="spacingAndGlyphs">INDOL</text>
<text x="141.30" y="626.10" font-size="8.8" text-anchor="middle" textLength="23.00" lengthAdjust="spacingAndGlyphs">PROG</text>
<text x="23.00" y="571.30" font-size="9.6" text-anchor="middle" textLength="56.70" lengthAdjust="spacingAndGlyphs" transform="rotate(-90 23.00 571.30)">% CD95 positive</text>
<text x="175.30" y="493.60" font-size="12.2" text-anchor="start" textLength="3.39" lengthAdjust="spacingAndGlyphs" font-weight="bold" fill="#000">I</text>
<text x="279.50" y="507.80" font-size="10.2" text-anchor="middle" textLength="21.20" lengthAdjust="spacingAndGlyphs">Bcl-2</text>
<text x="278.60" y="515.60" font-size="7.0" text-anchor="middle" textLength="6.90" lengthAdjust="spacingAndGlyphs">ns</text>
<text x="261.20" y="523.80" font-size="7.0" text-anchor="middle" textLength="6.90" lengthAdjust="spacingAndGlyphs">ns</text>
<text x="212.30" y="534.86" font-size="9.0" text-anchor="end" textLength="23.77" lengthAdjust="spacingAndGlyphs">10000</text>
<text x="212.30" y="615.86" font-size="9.0" text-anchor="end" textLength="19.02" lengthAdjust="spacingAndGlyphs">1000</text>
<text x="242.80" y="626.00" font-size="8.8" text-anchor="middle" textLength="16.00" lengthAdjust="spacingAndGlyphs">REG</text>
<text x="279.60" y="626.00" font-size="8.8" text-anchor="middle" textLength="25.60" lengthAdjust="spacingAndGlyphs">INDOL</text>
<text x="316.00" y="626.00" font-size="8.8" text-anchor="middle" textLength="23.00" lengthAdjust="spacingAndGlyphs">PROG</text>
<text x="184.30" y="571.60" font-size="9.6" text-anchor="middle" textLength="32.20" lengthAdjust="spacingAndGlyphs" transform="rotate(-90 184.30 571.60)">Bcl-2 MFI</text>
<text x="349.40" y="493.70" font-size="12.2" text-anchor="start" textLength="6.78" lengthAdjust="spacingAndGlyphs" font-weight="bold" fill="#000">J</text>
<text x="451.70" y="507.90" font-size="10.2" text-anchor="middle" textLength="23.60" lengthAdjust="spacingAndGlyphs">Mcl-1</text>
<text x="452.20" y="518.10" font-size="8.2" text-anchor="middle" textLength="12.80" lengthAdjust="spacingAndGlyphs">****</text>
<text x="433.40" y="524.70" font-size="7.0" text-anchor="middle" textLength="6.90" lengthAdjust="spacingAndGlyphs">ns</text>
<text x="385.20" y="535.06" font-size="9.0" text-anchor="end" textLength="23.77" lengthAdjust="spacingAndGlyphs">10000</text>
<text x="385.20" y="575.46" font-size="9.0" text-anchor="end" textLength="19.02" lengthAdjust="spacingAndGlyphs">1000</text>
<text x="385.20" y="615.76" font-size="9.0" text-anchor="end" textLength="14.26" lengthAdjust="spacingAndGlyphs">100</text>
<text x="415.20" y="626.00" font-size="8.8" text-anchor="middle" textLength="16.00" lengthAdjust="spacingAndGlyphs">REG</text>
<text x="451.70" y="626.00" font-size="8.8" text-anchor="middle" textLength="25.60" lengthAdjust="spacingAndGlyphs">INDOL</text>
<text x="488.10" y="626.00" font-size="8.8" text-anchor="middle" textLength="23.00" lengthAdjust="spacingAndGlyphs">PROG</text>
<text x="356.60" y="571.30" font-size="9.6" text-anchor="middle" textLength="37.30" lengthAdjust="spacingAndGlyphs" transform="rotate(-90 356.60 571.30)">Mcl-1 MFI</text></g>
<rect x="0.6" y="0.6" width="518.8" height="634.8" fill="none" stroke="#000" stroke-width="1.3"/>
</svg>
</body></html>
